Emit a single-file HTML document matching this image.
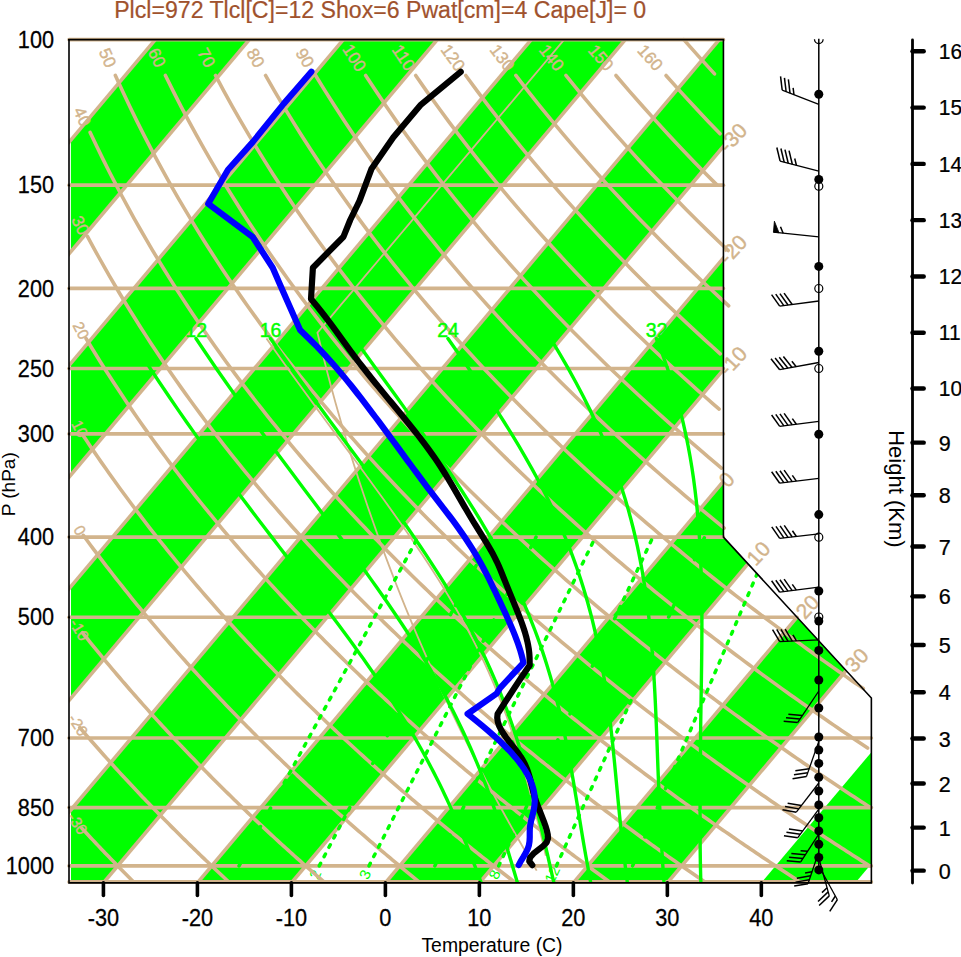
<!DOCTYPE html><html><head><meta charset="utf-8"><style>html,body{margin:0;padding:0;background:#fff;width:961px;height:957px;overflow:hidden}svg{display:block;font-family:"Liberation Sans",sans-serif}</style></head><body><svg width="961" height="957" viewBox="0 0 961 957"><defs><clipPath id="fr"><path d="M69.00,39.64 L723.43,39.64 L723.43,537.11 L871.37,698.02 L871.37,882.90 L69.00,882.90 Z"/></clipPath><clipPath id="frb"><rect x="70.90" y="0" width="961" height="957"/></clipPath></defs><g clip-path="url(#fr)"><path d="M-758.24,901.65 L-664.26,901.65 L65.11,35.14 L-28.88,35.14 Z" fill="#00ff00" clip-path="url(#frb)"/><path d="M-570.27,901.65 L-476.28,901.65 L253.08,35.14 L159.10,35.14 Z" fill="#00ff00" clip-path="url(#frb)"/><path d="M-382.29,901.65 L-288.31,901.65 L441.06,35.14 L347.07,35.14 Z" fill="#00ff00" clip-path="url(#frb)"/><path d="M-194.32,901.65 L-100.33,901.65 L629.03,35.14 L535.05,35.14 Z" fill="#00ff00" clip-path="url(#frb)"/><path d="M-6.35,901.65 L87.64,901.65 L817.01,35.14 L723.02,35.14 Z" fill="#00ff00" clip-path="url(#frb)"/><path d="M181.63,901.65 L275.61,901.65 L1004.98,35.14 L910.99,35.14 Z" fill="#00ff00" clip-path="url(#frb)"/><path d="M369.60,901.65 L463.59,901.65 L1192.95,35.14 L1098.97,35.14 Z" fill="#00ff00" clip-path="url(#frb)"/><path d="M557.58,901.65 L651.56,901.65 L1380.93,35.14 L1286.94,35.14 Z" fill="#00ff00" clip-path="url(#frb)"/><path d="M745.55,901.65 L839.54,901.65 L1568.90,35.14 L1474.92,35.14 Z" fill="#00ff00" clip-path="url(#frb)"/><text x="628.26" y="874.32" font-size="15" fill="#00ff00" text-anchor="middle" dominant-baseline="central" transform="rotate(-65.00 628.26 874.32)">20</text><text x="552.10" y="874.32" font-size="15" fill="#00ff00" text-anchor="middle" dominant-baseline="central" transform="rotate(-65.00 552.10 874.32)">12</text><text x="494.38" y="874.32" font-size="15" fill="#00ff00" text-anchor="middle" dominant-baseline="central" transform="rotate(-65.00 494.38 874.32)">8</text><text x="430.51" y="874.32" font-size="15" fill="#00ff00" text-anchor="middle" dominant-baseline="central" transform="rotate(-65.00 430.51 874.32)">5</text><text x="364.68" y="874.32" font-size="15" fill="#00ff00" text-anchor="middle" dominant-baseline="central" transform="rotate(-65.00 364.68 874.32)">3</text><text x="314.94" y="874.32" font-size="15" fill="#00ff00" text-anchor="middle" dominant-baseline="central" transform="rotate(-65.00 314.94 874.32)">2</text><text x="234.74" y="874.32" font-size="15" fill="#00ff00" text-anchor="middle" dominant-baseline="central" transform="rotate(-65.00 234.74 874.32)">1</text><line x1="-758.24" y1="901.65" x2="-28.88" y2="35.14" stroke="#d2b48c" stroke-width="3.6"/><line x1="-664.26" y1="901.65" x2="65.11" y2="35.14" stroke="#d2b48c" stroke-width="3.6"/><line x1="-570.27" y1="901.65" x2="159.10" y2="35.14" stroke="#d2b48c" stroke-width="3.6"/><line x1="-476.28" y1="901.65" x2="253.08" y2="35.14" stroke="#d2b48c" stroke-width="3.6"/><line x1="-382.29" y1="901.65" x2="347.07" y2="35.14" stroke="#d2b48c" stroke-width="3.6"/><line x1="-288.31" y1="901.65" x2="441.06" y2="35.14" stroke="#d2b48c" stroke-width="3.6"/><line x1="-194.32" y1="901.65" x2="535.05" y2="35.14" stroke="#d2b48c" stroke-width="3.6"/><line x1="-100.33" y1="901.65" x2="629.03" y2="35.14" stroke="#d2b48c" stroke-width="3.6"/><line x1="-6.35" y1="901.65" x2="723.02" y2="35.14" stroke="#d2b48c" stroke-width="3.6"/><line x1="87.64" y1="901.65" x2="817.01" y2="35.14" stroke="#d2b48c" stroke-width="3.6"/><line x1="181.63" y1="901.65" x2="910.99" y2="35.14" stroke="#d2b48c" stroke-width="3.6"/><line x1="275.61" y1="901.65" x2="1004.98" y2="35.14" stroke="#d2b48c" stroke-width="3.6"/><line x1="369.60" y1="901.65" x2="1098.97" y2="35.14" stroke="#d2b48c" stroke-width="3.6"/><line x1="463.59" y1="901.65" x2="1192.95" y2="35.14" stroke="#d2b48c" stroke-width="3.6"/><line x1="557.58" y1="901.65" x2="1286.94" y2="35.14" stroke="#d2b48c" stroke-width="3.6"/><line x1="651.56" y1="901.65" x2="1380.93" y2="35.14" stroke="#d2b48c" stroke-width="3.6"/></g><line x1="69.00" y1="881.90" x2="871.37" y2="881.90" stroke="#d2b48c" stroke-width="3.6" stroke-linecap="round"/><line x1="69.00" y1="865.92" x2="871.37" y2="865.92" stroke="#d2b48c" stroke-width="3.6" stroke-linecap="round"/><line x1="69.00" y1="807.60" x2="871.37" y2="807.60" stroke="#d2b48c" stroke-width="3.6" stroke-linecap="round"/><line x1="69.00" y1="737.93" x2="871.37" y2="737.93" stroke="#d2b48c" stroke-width="3.6" stroke-linecap="round"/><line x1="69.00" y1="617.18" x2="797.05" y2="617.18" stroke="#d2b48c" stroke-width="3.6" stroke-linecap="round"/><line x1="69.00" y1="537.11" x2="723.43" y2="537.11" stroke="#d2b48c" stroke-width="3.6" stroke-linecap="round"/><line x1="69.00" y1="433.88" x2="723.43" y2="433.88" stroke="#d2b48c" stroke-width="3.6" stroke-linecap="round"/><line x1="69.00" y1="368.45" x2="723.43" y2="368.45" stroke="#d2b48c" stroke-width="3.6" stroke-linecap="round"/><line x1="69.00" y1="288.38" x2="723.43" y2="288.38" stroke="#d2b48c" stroke-width="3.6" stroke-linecap="round"/><line x1="69.00" y1="185.14" x2="723.43" y2="185.14" stroke="#d2b48c" stroke-width="3.6" stroke-linecap="round"/><line x1="69.00" y1="39.64" x2="723.43" y2="39.64" stroke="#d2b48c" stroke-width="3.6" stroke-linecap="round"/><defs><clipPath id="lb"><rect x="69.00" y="30" width="900" height="852.90"/></clipPath></defs><g clip-path="url(#lb)"><path d="M81.71,828.11 L83.55,830.10 L85.39,832.08 L87.22,834.04 L89.05,836.00 L90.88,837.94 L92.70,839.88 L94.51,841.80 L96.32,843.71 L98.13,845.62 L99.93,847.51 L101.73,849.40 L103.52,851.27 L105.31,853.13 L107.10,854.99 L108.88,856.83 L110.65,858.67 L112.43,860.50 L114.19,862.31 L115.96,864.12 L117.72,865.92 L119.47,867.71 L121.23,869.49 L122.97,871.26 L124.72,873.02 L126.46,874.78 L128.19,876.53 L129.92,878.26 L131.65,879.99 L133.37,881.71 L135.09,883.43 L136.81,885.13 L138.52,886.83" fill="none" stroke="#d2b48c" stroke-width="3.6" stroke-linecap="round"/><path d="M79.72,727.52 L81.97,730.15 L84.22,732.76 L86.47,735.35 L88.70,737.93 L90.93,740.48 L93.15,743.02 L95.36,745.54 L97.57,748.04 L99.77,750.52 L101.97,752.99 L104.15,755.44 L106.33,757.87 L108.51,760.28 L110.68,762.68 L112.84,765.07 L114.99,767.44 L117.14,769.79 L119.28,772.13 L121.42,774.45 L123.55,776.76 L125.67,779.05 L127.79,781.33 L129.90,783.59 L132.01,785.84 L134.11,788.08 L136.20,790.30 L138.29,792.51 L140.37,794.71 L142.44,796.89 L144.51,799.05 L146.58,801.21 L148.64,803.35 L150.69,805.48 L152.74,807.60 L154.78,809.70 L156.81,811.80 L158.84,813.88 L160.87,815.94 L162.89,818.00 L164.90,820.05 L166.91,822.08 L168.91,824.10 L170.91,826.11 L172.90,828.11 L174.89,830.10 L176.87,832.08 L178.85,834.04 L180.82,836.00 L182.79,837.94 L184.75,839.88 L186.71,841.80 L188.66,843.71 L190.61,845.62 L192.55,847.51 L194.49,849.40 L196.42,851.27 L198.35,853.13 L200.27,854.99 L202.19,856.83 L204.10,858.67 L206.01,860.50 L207.91,862.31 L209.81,864.12 L211.71,865.92 L213.60,867.71 L215.48,869.49 L217.36,871.26 L219.24,873.02 L221.11,874.78 L222.98,876.53 L224.84,878.26 L226.70,879.99 L228.55,881.71 L230.40,883.43 L232.25,885.13 L234.09,886.83" fill="none" stroke="#d2b48c" stroke-width="3.6" stroke-linecap="round"/><path d="M82.43,632.64 L85.15,636.06 L87.87,639.45 L90.58,642.80 L93.27,646.13 L95.96,649.42 L98.63,652.69 L101.30,655.93 L103.95,659.13 L106.60,662.31 L109.23,665.46 L111.86,668.58 L114.47,671.68 L117.08,674.75 L119.67,677.79 L122.26,680.81 L124.84,683.80 L127.41,686.77 L129.96,689.72 L132.51,692.64 L135.05,695.53 L137.59,698.41 L140.11,701.26 L142.62,704.08 L145.13,706.89 L147.62,709.67 L150.11,712.44 L152.59,715.18 L155.06,717.90 L157.52,720.60 L159.98,723.28 L162.43,725.94 L164.86,728.58 L167.29,731.20 L169.71,733.80 L172.13,736.39 L174.53,738.95 L176.93,741.50 L179.32,744.03 L181.70,746.54 L184.08,749.03 L186.45,751.51 L188.81,753.97 L191.16,756.41 L193.50,758.84 L195.84,761.25 L198.17,763.64 L200.49,766.02 L202.81,768.38 L205.12,770.73 L207.42,773.06 L209.72,775.38 L212.00,777.68 L214.28,779.97 L216.56,782.24 L218.83,784.50 L221.09,786.74 L223.34,788.97 L225.59,791.19 L227.83,793.39 L230.06,795.58 L232.29,797.76 L234.51,799.92 L236.73,802.07 L238.93,804.21 L241.14,806.33 L243.33,808.44 L245.52,810.54 L247.70,812.63 L249.88,814.71 L252.05,816.77 L254.22,818.82 L256.38,820.86 L258.53,822.89 L260.68,824.91 L262.82,826.91 L264.95,828.91 L267.08,830.89 L269.21,832.86 L271.33,834.83 L273.44,836.78 L275.55,838.72 L277.65,840.65 L279.74,842.57 L281.83,844.48 L283.92,846.38 L286.00,848.27 L288.07,850.15 L290.14,852.02 L292.21,853.88 L294.26,855.73 L296.32,857.57 L298.36,859.40 L300.41,861.22 L302.44,863.04 L304.48,864.84 L306.50,866.64 L308.52,868.42 L310.54,870.20 L312.55,871.97 L314.56,873.73 L316.56,875.48 L318.56,877.22 L320.55,878.96 L322.54,880.68 L324.52,882.40 L326.50,884.11 L328.47,885.81 L329.65,886.83" fill="none" stroke="#d2b48c" stroke-width="3.6" stroke-linecap="round"/><path d="M83.29,535.31 L86.57,539.79 L89.84,544.22 L93.10,548.59 L96.34,552.91 L99.56,557.17 L102.77,561.39 L105.96,565.56 L109.14,569.68 L112.30,573.75 L115.45,577.78 L118.59,581.76 L121.71,585.70 L124.81,589.60 L127.91,593.45 L130.99,597.26 L134.05,601.04 L137.10,604.77 L140.14,608.47 L143.17,612.13 L146.18,615.75 L149.18,619.33 L152.17,622.88 L155.14,626.40 L158.11,629.88 L161.06,633.32 L164.00,636.74 L166.92,640.12 L169.83,643.47 L172.74,646.79 L175.63,650.08 L178.51,653.34 L181.37,656.57 L184.23,659.77 L187.07,662.94 L189.91,666.09 L192.73,669.21 L195.54,672.30 L198.34,675.36 L201.13,678.40 L203.91,681.41 L206.68,684.40 L209.44,687.36 L212.19,690.30 L214.92,693.22 L217.65,696.11 L220.37,698.98 L223.08,701.82 L225.78,704.65 L228.46,707.45 L231.14,710.23 L233.81,712.99 L236.47,715.72 L239.12,718.44 L241.76,721.14 L244.39,723.81 L247.01,726.47 L249.63,729.10 L252.23,731.72 L254.83,734.32 L257.41,736.90 L259.99,739.46 L262.56,742.00 L265.12,744.53 L267.67,747.04 L270.21,749.53 L272.75,752.00 L275.28,754.46 L277.79,756.90 L280.30,759.32 L282.81,761.73 L285.30,764.12 L287.79,766.49 L290.26,768.85 L292.73,771.20 L295.20,773.52 L297.65,775.84 L300.10,778.14 L302.54,780.42 L304.97,782.69 L307.39,784.95 L309.81,787.19 L312.22,789.41 L314.62,791.63 L317.01,793.83 L319.40,796.02 L321.78,798.19 L324.16,800.35 L326.52,802.50 L328.88,804.63 L331.23,806.75 L333.58,808.86 L335.92,810.96 L338.25,813.05 L340.57,815.12 L342.89,817.18 L345.20,819.23 L347.51,821.27 L349.81,823.29 L352.10,825.31 L354.39,827.31 L356.66,829.30 L358.94,831.29 L361.20,833.26 L363.46,835.22 L365.72,837.17 L367.97,839.10 L370.21,841.03 L372.44,842.95 L374.67,844.86 L376.90,846.76 L379.12,848.64 L381.33,850.52 L383.53,852.39 L385.73,854.25 L387.93,856.10 L390.12,857.94 L392.30,859.77 L394.48,861.59 L396.65,863.40 L398.81,865.20 L400.97,866.99 L403.13,868.78 L405.28,870.55 L407.42,872.32 L409.56,874.08 L411.69,875.83 L413.82,877.57 L415.94,879.30 L418.06,881.03 L420.17,882.74 L422.28,884.45 L424.38,886.15 L425.22,886.83" fill="none" stroke="#d2b48c" stroke-width="3.6" stroke-linecap="round"/><path d="M82.08,433.88 L86.03,439.81 L89.95,445.64 L93.85,451.38 L97.72,457.04 L101.58,462.60 L105.41,468.08 L109.22,473.47 L113.01,478.79 L116.78,484.03 L120.53,489.19 L124.26,494.28 L127.97,499.30 L131.65,504.25 L135.32,509.13 L138.97,513.95 L142.60,518.70 L146.21,523.39 L149.80,528.03 L153.37,532.60 L156.93,537.11 L160.46,541.57 L163.98,545.97 L167.48,550.32 L170.96,554.62 L174.43,558.87 L177.88,563.06 L181.31,567.21 L184.72,571.31 L188.12,575.37 L191.50,579.38 L194.87,583.34 L198.22,587.26 L201.55,591.14 L204.87,594.98 L208.18,598.78 L211.46,602.54 L214.74,606.25 L218.00,609.94 L221.24,613.58 L224.47,617.18 L227.68,620.76 L230.88,624.29 L234.07,627.79 L237.24,631.26 L240.40,634.69 L243.55,638.09 L246.68,641.46 L249.80,644.80 L252.90,648.11 L256.00,651.39 L259.08,654.63 L262.14,657.85 L265.20,661.04 L268.24,664.20 L271.27,667.34 L274.28,670.44 L277.29,673.53 L280.28,676.58 L283.26,679.61 L286.23,682.61 L289.19,685.59 L292.14,688.54 L295.07,691.47 L297.99,694.38 L300.91,697.26 L303.81,700.12 L306.70,702.96 L309.58,705.77 L312.44,708.56 L315.30,711.33 L318.15,714.08 L320.99,716.81 L323.81,719.52 L326.63,722.21 L329.44,724.88 L332.23,727.52 L335.02,730.15 L337.79,732.76 L340.56,735.35 L343.32,737.93 L346.06,740.48 L348.80,743.02 L351.53,745.54 L354.25,748.04 L356.96,750.52 L359.66,752.99 L362.35,755.44 L365.03,757.87 L367.70,760.28 L370.37,762.68 L373.02,765.07 L375.67,767.44 L378.31,769.79 L380.94,772.13 L383.56,774.45 L386.17,776.76 L388.77,779.05 L391.37,781.33 L393.96,783.59 L396.54,785.84 L399.11,788.08 L401.67,790.30 L404.22,792.51 L406.77,794.71 L409.31,796.89 L411.84,799.05 L414.37,801.21 L416.88,803.35 L419.39,805.48 L421.89,807.60 L424.38,809.70 L426.87,811.80 L429.35,813.88 L431.82,815.94 L434.28,818.00 L436.74,820.05 L439.19,822.08 L441.63,824.10 L444.07,826.11 L446.50,828.11 L448.92,830.10 L451.33,832.08 L453.74,834.04 L456.14,836.00 L458.53,837.94 L460.92,839.88 L463.30,841.80 L465.68,843.71 L468.04,845.62 L470.40,847.51 L472.76,849.40 L475.11,851.27 L477.45,853.13 L479.78,854.99 L482.11,856.83 L484.44,858.67 L486.75,860.50 L489.06,862.31 L491.37,864.12 L493.67,865.92 L495.96,867.71 L498.24,869.49 L500.53,871.26 L502.80,873.02 L505.07,874.78 L507.33,876.53 L509.59,878.26 L511.84,879.99 L514.08,881.71 L516.32,883.43 L518.56,885.13 L520.79,886.83" fill="none" stroke="#d2b48c" stroke-width="3.6" stroke-linecap="round"/><path d="M86.06,338.53 L90.73,346.25 L95.37,353.80 L99.98,361.20 L104.55,368.45 L109.10,375.56 L113.61,382.53 L118.10,389.36 L122.56,396.07 L126.98,402.65 L131.38,409.12 L135.75,415.47 L140.09,421.71 L144.40,427.85 L148.69,433.88 L152.95,439.81 L157.18,445.64 L161.39,451.38 L165.57,457.04 L169.73,462.60 L173.86,468.08 L177.97,473.47 L182.05,478.79 L186.11,484.03 L190.14,489.19 L194.15,494.28 L198.14,499.30 L202.10,504.25 L206.05,509.13 L209.97,513.95 L213.86,518.70 L217.74,523.39 L221.60,528.03 L225.43,532.60 L229.25,537.11 L233.04,541.57 L236.81,545.97 L240.57,550.32 L244.30,554.62 L248.01,558.87 L251.71,563.06 L255.38,567.21 L259.04,571.31 L262.68,575.37 L266.30,579.38 L269.90,583.34 L273.49,587.26 L277.06,591.14 L280.61,594.98 L284.14,598.78 L287.66,602.54 L291.16,606.25 L294.64,609.94 L298.10,613.58 L301.55,617.18 L304.99,620.76 L308.41,624.29 L311.81,627.79 L315.20,631.26 L318.57,634.69 L321.93,638.09 L325.27,641.46 L328.60,644.80 L331.91,648.11 L335.21,651.39 L338.50,654.63 L341.77,657.85 L345.02,661.04 L348.27,664.20 L351.50,667.34 L354.71,670.44 L357.91,673.53 L361.10,676.58 L364.28,679.61 L367.44,682.61 L370.59,685.59 L373.73,688.54 L376.86,691.47 L379.97,694.38 L383.07,697.26 L386.16,700.12 L389.24,702.96 L392.30,705.77 L395.35,708.56 L398.40,711.33 L401.42,714.08 L404.44,716.81 L407.45,719.52 L410.45,722.21 L413.43,724.88 L416.40,727.52 L419.37,730.15 L422.32,732.76 L425.26,735.35 L428.19,737.93 L431.11,740.48 L434.02,743.02 L436.92,745.54 L439.81,748.04 L442.69,750.52 L445.55,752.99 L448.41,755.44 L451.26,757.87 L454.10,760.28 L456.93,762.68 L459.75,765.07 L462.56,767.44 L465.36,769.79 L468.15,772.13 L470.94,774.45 L473.71,776.76 L476.47,779.05 L479.23,781.33 L481.97,783.59 L484.71,785.84 L487.44,788.08 L490.16,790.30 L492.87,792.51 L495.57,794.71 L498.27,796.89 L500.95,799.05 L503.63,801.21 L506.30,803.35 L508.96,805.48 L511.61,807.60 L514.25,809.70 L516.89,811.80 L519.52,813.88 L522.14,815.94 L524.75,818.00 L527.35,820.05 L529.95,822.08 L532.54,824.10 L535.12,826.11 L537.69,828.11 L540.26,830.10 L542.82,832.08 L545.37,834.04 L547.91,836.00 L550.45,837.94 L552.98,839.88 L555.50,841.80 L558.01,843.71 L560.52,845.62 L563.02,847.51 L565.52,849.40 L568.00,851.27 L570.48,853.13 L572.96,854.99 L575.42,856.83 L577.88,858.67 L580.33,860.50 L582.78,862.31 L585.22,864.12 L587.65,865.92 L590.08,867.71 L592.50,869.49 L594.91,871.26 L597.32,873.02 L599.72,874.78 L602.12,876.53 L604.50,878.26 L606.89,879.99 L609.26,881.71 L611.63,883.43 L614.00,885.13 L616.35,886.83" fill="none" stroke="#d2b48c" stroke-width="3.6" stroke-linecap="round"/><path d="M87.43,236.33 L92.94,246.56 L98.41,256.50 L103.83,266.17 L109.22,275.59 L114.56,284.77 L119.86,293.72 L125.12,302.45 L130.34,310.97 L135.52,319.30 L140.66,327.44 L145.77,335.40 L150.83,343.18 L155.86,350.80 L160.85,358.26 L165.81,365.57 L170.72,372.73 L175.61,379.75 L180.46,386.64 L185.27,393.40 L190.05,400.03 L194.80,406.55 L199.51,412.94 L204.19,419.23 L208.84,425.40 L213.46,431.48 L218.05,437.45 L222.61,443.32 L227.13,449.10 L231.63,454.79 L236.10,460.38 L240.54,465.90 L244.95,471.33 L249.34,476.67 L253.70,481.94 L258.03,487.14 L262.33,492.26 L266.61,497.30 L270.86,502.28 L275.09,507.19 L279.29,512.03 L283.47,516.81 L287.62,521.53 L291.75,526.18 L295.86,530.78 L299.94,535.31 L304.00,539.79 L308.04,544.22 L312.05,548.59 L316.04,552.91 L320.01,557.17 L323.97,561.39 L327.89,565.56 L331.80,569.68 L335.69,573.75 L339.56,577.78 L343.40,581.76 L347.23,585.70 L351.04,589.60 L354.83,593.45 L358.60,597.26 L362.35,601.04 L366.08,604.77 L369.80,608.47 L373.50,612.13 L377.17,615.75 L380.84,619.33 L384.48,622.88 L388.11,626.40 L391.71,629.88 L395.31,633.32 L398.88,636.74 L402.44,640.12 L405.99,643.47 L409.52,646.79 L413.03,650.08 L416.52,653.34 L420.00,656.57 L423.47,659.77 L426.92,662.94 L430.36,666.09 L433.78,669.21 L437.18,672.30 L440.57,675.36 L443.95,678.40 L447.31,681.41 L450.66,684.40 L454.00,687.36 L457.32,690.30 L460.63,693.22 L463.92,696.11 L467.20,698.98 L470.47,701.82 L473.73,704.65 L476.97,707.45 L480.20,710.23 L483.42,712.99 L486.62,715.72 L489.81,718.44 L492.99,721.14 L496.16,723.81 L499.32,726.47 L502.46,729.10 L505.59,731.72 L508.71,734.32 L511.82,736.90 L514.92,739.46 L518.00,742.00 L521.08,744.53 L524.14,747.04 L527.20,749.53 L530.24,752.00 L533.27,754.46 L536.29,756.90 L539.30,759.32 L542.30,761.73 L545.29,764.12 L548.27,766.49 L551.23,768.85 L554.19,771.20 L557.14,773.52 L560.08,775.84 L563.01,778.14 L565.92,780.42 L568.83,782.69 L571.73,784.95 L574.62,787.19 L577.50,789.41 L580.37,791.63 L583.23,793.83 L586.08,796.02 L588.93,798.19 L591.76,800.35 L594.58,802.50 L597.40,804.63 L600.21,806.75 L603.01,808.86 L605.79,810.96 L608.58,813.05 L611.35,815.12 L614.11,817.18 L616.87,819.23 L619.61,821.27 L622.35,823.29 L625.08,825.31 L627.80,827.31 L630.52,829.30 L633.22,831.29 L635.92,833.26 L638.61,835.22 L641.29,837.17 L643.97,839.10 L646.63,841.03 L649.29,842.95 L651.94,844.86 L654.59,846.76 L657.22,848.64 L659.85,850.52 L662.47,852.39 L665.08,854.25 L667.69,856.10 L670.29,857.94 L672.88,859.77 L675.47,861.59 L678.04,863.40 L680.61,865.20 L683.18,866.99 L685.73,868.78 L688.28,870.55 L690.83,872.32 L693.36,874.08 L695.89,875.83 L698.41,877.57 L700.93,879.30 L703.44,881.03 L705.94,882.74 L708.44,884.45 L710.93,886.15 L711.92,886.83" fill="none" stroke="#d2b48c" stroke-width="3.6" stroke-linecap="round"/><path d="M90.16,132.41 L96.59,146.00 L102.97,159.10 L109.29,171.74 L115.56,183.94 L121.78,195.75 L127.95,207.18 L134.06,218.26 L140.13,229.00 L146.14,239.43 L152.09,249.57 L158.00,259.43 L163.86,269.02 L169.67,278.37 L175.42,287.48 L181.14,296.36 L186.80,305.03 L192.41,313.49 L197.98,321.76 L203.51,329.84 L208.99,337.75 L214.42,345.48 L219.81,353.05 L225.16,360.47 L230.47,367.73 L235.74,374.85 L240.97,381.83 L246.16,388.68 L251.30,395.40 L256.41,402.00 L261.49,408.48 L266.52,414.84 L271.52,421.09 L276.49,427.24 L281.42,433.28 L286.31,439.22 L291.17,445.06 L296.00,450.81 L300.79,456.47 L305.56,462.05 L310.29,467.53 L314.99,472.94 L319.65,478.26 L324.29,483.51 L328.90,488.68 L333.48,493.78 L338.03,498.80 L342.55,503.76 L347.05,508.65 L351.52,513.47 L355.96,518.23 L360.37,522.93 L364.76,527.56 L369.12,532.14 L373.45,536.66 L377.76,541.12 L382.05,545.53 L386.31,549.89 L390.55,554.19 L394.76,558.44 L398.95,562.65 L403.12,566.80 L407.26,570.90 L411.39,574.96 L415.49,578.98 L419.57,582.95 L423.62,586.87 L427.66,590.76 L431.67,594.60 L435.67,598.40 L439.64,602.16 L443.59,605.88 L447.53,609.57 L451.44,613.22 L455.34,616.83 L459.21,620.40 L463.07,623.94 L466.91,627.44 L470.73,630.91 L474.53,634.35 L478.31,637.76 L482.08,641.13 L485.83,644.47 L489.56,647.78 L493.27,651.06 L496.97,654.31 L500.65,657.53 L504.31,660.72 L507.96,663.89 L511.59,667.03 L515.21,670.14 L518.81,673.22 L522.39,676.28 L525.96,679.31 L529.51,682.31 L533.05,685.29 L536.57,688.25 L540.08,691.18 L543.58,694.09 L547.06,696.97 L550.52,699.83 L553.97,702.67 L557.41,705.49 L560.83,708.28 L564.24,711.06 L567.64,713.81 L571.02,716.54 L574.39,719.25 L577.74,721.94 L581.08,724.61 L584.41,727.26 L587.73,729.89 L591.04,732.50 L594.33,735.10 L597.61,737.67 L600.87,740.23 L604.13,742.76 L607.37,745.28 L610.60,747.79 L613.82,750.27 L617.03,752.74 L620.22,755.19 L623.41,757.63 L626.58,760.04 L629.74,762.45 L632.89,764.83 L636.03,767.20 L639.16,769.56 L642.28,771.90 L645.38,774.22 L648.48,776.53 L651.57,778.82 L654.64,781.10 L657.70,783.37 L660.76,785.62 L663.80,787.86 L666.84,790.08 L669.86,792.29 L672.87,794.49 L675.88,796.67 L678.87,798.84 L681.86,801.00 L684.83,803.14 L687.80,805.27 L690.75,807.39 L693.70,809.49 L696.63,811.59 L699.56,813.67 L702.48,815.74 L705.39,817.80 L708.29,819.84 L711.18,821.88 L714.06,823.90 L716.94,825.91 L719.80,827.91 L722.66,829.90 L725.50,831.88 L728.34,833.85 L731.17,835.80 L734.00,837.75 L736.81,839.68 L739.61,841.61 L742.41,843.52 L745.20,845.43 L747.98,847.32 L750.75,849.21 L753.52,851.08 L756.28,852.95 L759.03,854.80 L761.77,856.65 L764.50,858.49 L767.23,860.31 L769.94,862.13 L772.65,863.94 L775.36,865.74 L778.05,867.53 L780.74,869.31 L783.42,871.08 L786.10,872.85 L788.76,874.60 L791.42,876.35 L794.07,878.09 L796.72,879.82 L799.35,881.54 L801.98,883.26 L804.61,884.96 L807.22,886.66 L807.49,886.83" fill="none" stroke="#d2b48c" stroke-width="3.6" stroke-linecap="round"/><path d="M115.38,75.47 L122.61,91.35 L129.79,106.56 L136.90,121.15 L143.95,135.17 L150.93,148.66 L157.85,161.66 L164.70,174.21 L171.49,186.34 L178.21,198.07 L184.87,209.42 L191.47,220.43 L198.00,231.11 L204.47,241.48 L210.88,251.56 L217.23,261.37 L223.52,270.91 L229.75,280.21 L235.93,289.27 L242.05,298.11 L248.11,306.74 L254.13,315.16 L260.08,323.39 L265.99,331.44 L271.85,339.31 L277.66,347.01 L283.41,354.55 L289.13,361.93 L294.79,369.17 L300.41,376.26 L305.98,383.21 L311.51,390.04 L316.99,396.73 L322.44,403.30 L327.84,409.76 L333.20,416.10 L338.52,422.33 L343.80,428.45 L349.04,434.47 L354.24,440.40 L359.41,446.22 L364.53,451.95 L369.63,457.60 L374.68,463.15 L379.71,468.62 L384.69,474.01 L389.65,479.32 L394.57,484.55 L399.46,489.71 L404.31,494.79 L409.14,499.80 L413.93,504.74 L418.70,509.62 L423.43,514.43 L428.13,519.18 L432.81,523.86 L437.45,528.49 L442.07,533.05 L446.66,537.56 L451.23,542.01 L455.76,546.41 L460.27,550.75 L464.75,555.05 L469.21,559.29 L473.64,563.48 L478.05,567.62 L482.43,571.72 L486.79,575.77 L491.13,579.78 L495.44,583.74 L499.72,587.65 L503.99,591.53 L508.23,595.36 L512.45,599.16 L516.65,602.91 L520.82,606.62 L524.98,610.30 L529.11,613.94 L533.22,617.54 L537.31,621.11 L541.38,624.64 L545.44,628.14 L549.47,631.60 L553.48,635.03 L557.47,638.43 L561.44,641.80 L565.40,645.13 L569.33,648.44 L573.25,651.71 L577.15,654.96 L581.03,658.17 L584.89,661.36 L588.74,664.52 L592.57,667.65 L596.38,670.75 L600.17,673.83 L603.95,676.88 L607.71,679.91 L611.45,682.91 L615.18,685.88 L618.89,688.84 L622.59,691.76 L626.27,694.67 L629.93,697.55 L633.58,700.40 L637.22,703.24 L640.84,706.05 L644.44,708.84 L648.03,711.61 L651.61,714.36 L655.17,717.08 L658.71,719.79 L662.25,722.48 L665.76,725.14 L669.27,727.79 L672.76,730.42 L676.24,733.02 L679.70,735.61 L683.15,738.18 L686.59,740.74 L690.01,743.27 L693.42,745.79 L696.82,748.29 L700.21,750.77 L703.58,753.23 L706.94,755.68 L710.29,758.11 L713.63,760.53 L716.95,762.92 L720.27,765.31 L723.57,767.67 L726.86,770.03 L730.13,772.36 L733.40,774.68 L736.65,776.99 L739.90,779.28 L743.13,781.56 L746.35,783.82 L749.56,786.07 L752.76,788.30 L755.95,790.52 L759.13,792.73 L762.29,794.92 L765.45,797.10 L768.59,799.27 L771.73,801.42 L774.85,803.57 L777.97,805.69 L781.07,807.81 L784.17,809.91 L787.25,812.00 L790.33,814.08 L793.39,816.15 L796.45,818.21 L799.50,820.25 L802.53,822.28 L805.56,824.30 L808.58,826.31 L811.58,828.31 L814.58,830.30 L817.57,832.27 L820.55,834.24 L823.53,836.19 L826.49,838.14 L829.44,840.07 L832.39,841.99 L835.32,843.91 L838.25,845.81 L841.17,847.70 L844.08,849.58 L846.98,851.46 L849.87,853.32 L852.76,855.17 L855.64,857.02 L858.50,858.85 L861.37,860.68 L864.22,862.49 L867.06,864.30 L869.61,865.92" fill="none" stroke="#d2b48c" stroke-width="3.6" stroke-linecap="round"/><path d="M165.43,75.47 L173.31,91.35 L181.10,106.56 L188.81,121.15 L196.45,135.17 L204.00,148.66 L211.47,161.66 L218.86,174.21 L226.17,186.34 L233.41,198.07 L240.57,209.42 L247.66,220.43 L254.67,231.11 L261.61,241.48 L268.48,251.56 L275.28,261.37 L282.01,270.91 L288.68,280.21 L295.28,289.27 L301.82,298.11 L308.30,306.74 L314.72,315.16 L321.08,323.39 L327.38,331.44 L333.62,339.31 L339.81,347.01 L345.94,354.55 L352.02,361.93 L358.05,369.17 L364.03,376.26 L369.95,383.21 L375.83,390.04 L381.66,396.73 L387.44,403.30 L393.18,409.76 L398.87,416.10 L404.51,422.33 L410.12,428.45 L415.68,434.47 L421.19,440.40 L426.67,446.22 L432.11,451.95 L437.51,457.60 L442.86,463.15 L448.18,468.62 L453.47,474.01 L458.71,479.32 L463.92,484.55 L469.10,489.71 L474.24,494.79 L479.34,499.80 L484.41,504.74 L489.45,509.62 L494.45,514.43 L499.43,519.18 L504.37,523.86 L509.28,528.49 L514.16,533.05 L519.01,537.56 L523.83,542.01 L528.62,546.41 L533.38,550.75 L538.11,555.05 L542.82,559.29 L547.50,563.48 L552.15,567.62 L556.78,571.72 L561.37,575.77 L565.95,579.78 L570.49,583.74 L575.02,587.65 L579.51,591.53 L583.99,595.36 L588.44,599.16 L592.86,602.91 L597.26,606.62 L601.64,610.30 L606.00,613.94 L610.33,617.54 L614.64,621.11 L618.93,624.64 L623.20,628.14 L627.44,631.60 L631.67,635.03 L635.87,638.43 L640.06,641.80 L644.22,645.13 L648.36,648.44 L652.49,651.71 L656.59,654.96 L660.67,658.17 L664.74,661.36 L668.79,664.52 L672.82,667.65 L676.82,670.75 L680.82,673.83 L684.79,676.88 L688.75,679.91 L692.68,682.91 L696.60,685.88 L700.51,688.84 L704.39,691.76 L708.26,694.67 L712.12,697.55 L715.95,700.40 L719.78,703.24 L723.58,706.05 L727.37,708.84 L731.14,711.61 L734.90,714.36 L738.64,717.08 L742.37,719.79 L746.08,722.48 L749.78,725.14 L753.46,727.79 L757.12,730.42 L760.78,733.02 L764.42,735.61 L768.04,738.18 L771.65,740.74 L775.25,743.27 L778.83,745.79 L782.40,748.29 L785.95,750.77 L789.50,753.23 L793.03,755.68 L796.54,758.11 L800.04,760.53 L803.53,762.92 L807.01,765.31 L810.48,767.67 L813.93,770.03 L817.37,772.36 L820.80,774.68 L824.21,776.99 L827.61,779.28 L831.01,781.56 L834.38,783.82 L837.75,786.07 L841.11,788.30 L844.45,790.52 L847.79,792.73 L851.11,794.92 L854.42,797.10 L857.72,799.27 L861.01,801.42 L864.28,803.57 L867.55,805.69 L870.48,807.60" fill="none" stroke="#d2b48c" stroke-width="3.6" stroke-linecap="round"/><path d="M215.49,75.47 L224.00,91.35 L232.41,106.56 L240.73,121.15 L248.94,135.17 L257.06,148.66 L265.09,161.66 L273.02,174.21 L280.86,186.34 L288.61,198.07 L296.27,209.42 L303.84,220.43 L311.34,231.11 L318.75,241.48 L326.08,251.56 L333.33,261.37 L340.51,270.91 L347.61,280.21 L354.64,289.27 L361.60,298.11 L368.49,306.74 L375.31,315.16 L382.07,323.39 L388.76,331.44 L395.39,339.31 L401.96,347.01 L408.47,354.55 L414.92,361.93 L421.31,369.17 L427.64,376.26 L433.92,383.21 L440.15,390.04 L446.32,396.73 L452.44,403.30 L458.52,409.76 L464.54,416.10 L470.51,422.33 L476.44,428.45 L482.32,434.47 L488.15,440.40 L493.94,446.22 L499.68,451.95 L505.38,457.60 L511.04,463.15 L516.66,468.62 L522.24,474.01 L527.78,479.32 L533.27,484.55 L538.73,489.71 L544.16,494.79 L549.54,499.80 L554.89,504.74 L560.20,509.62 L565.48,514.43 L570.72,519.18 L575.93,523.86 L581.10,528.49 L586.24,533.05 L591.35,537.56 L596.43,542.01 L601.48,546.41 L606.49,550.75 L611.48,555.05 L616.43,559.29 L621.35,563.48 L626.25,567.62 L631.12,571.72 L635.96,575.77 L640.77,579.78 L645.55,583.74 L650.31,587.65 L655.04,591.53 L659.74,595.36 L664.42,599.16 L669.07,602.91 L673.70,606.62 L678.30,610.30 L682.88,613.94 L687.44,617.54 L691.97,621.11 L696.47,624.64 L700.96,628.14 L705.42,631.60 L709.86,635.03 L714.27,638.43 L718.67,641.80 L723.04,645.13 L727.39,648.44 L731.72,651.71 L736.03,654.96 L740.32,658.17 L744.59,661.36 L748.84,664.52 L753.06,667.65 L757.27,670.75 L761.46,673.83 L765.63,676.88 L769.78,679.91 L773.91,682.91 L778.03,685.88 L782.12,688.84 L786.20,691.76 L790.26,694.67 L794.30,697.55 L798.33,700.40 L802.33,703.24 L806.32,706.05 L810.30,708.84 L814.25,711.61 L818.19,714.36 L822.11,717.08 L826.02,719.79 L829.91,722.48 L833.79,725.14 L837.65,727.79 L841.49,730.42 L845.32,733.02 L849.13,735.61 L852.93,738.18 L856.71,740.74 L860.48,743.27 L864.24,745.79 L867.60,748.04" fill="none" stroke="#d2b48c" stroke-width="3.6" stroke-linecap="round"/><path d="M265.55,75.47 L274.70,91.35 L283.73,106.56 L292.64,121.15 L301.44,135.17 L310.13,148.66 L318.70,161.66 L327.17,174.21 L335.54,186.34 L343.80,198.07 L351.96,209.42 L360.03,220.43 L368.00,231.11 L375.89,241.48 L383.68,251.56 L391.38,261.37 L399.00,270.91 L406.54,280.21 L414.00,289.27 L421.38,298.11 L428.68,306.74 L435.91,315.16 L443.06,323.39 L450.15,331.44 L457.17,339.31 L464.11,347.01 L471.00,354.55 L477.81,361.93 L484.57,369.17 L491.26,376.26 L497.90,383.21 L504.47,390.04 L510.99,396.73 L517.45,403.30 L523.86,409.76 L530.21,416.10 L536.51,422.33 L542.76,428.45 L548.96,434.47 L555.10,440.40 L561.20,446.22 L567.26,451.95 L573.26,457.60 L579.22,463.15 L585.14,468.62 L591.01,474.01 L596.84,479.32 L602.63,484.55 L608.37,489.71 L614.08,494.79 L619.74,499.80 L625.37,504.74 L630.95,509.62 L636.50,514.43 L642.01,519.18 L647.49,523.86 L652.93,528.49 L658.33,533.05 L663.70,537.56 L669.03,542.01 L674.33,546.41 L679.60,550.75 L684.84,555.05 L690.04,559.29 L695.21,563.48 L700.35,567.62 L705.46,571.72 L710.54,575.77 L715.59,579.78 L720.61,583.74 L725.60,587.65 L730.56,591.53 L735.50,595.36 L740.41,599.16 L745.29,602.91 L750.14,606.62 L754.97,610.30 L759.77,613.94 L764.54,617.54 L769.29,621.11 L774.02,624.64 L778.72,628.14 L783.40,631.60 L788.05,635.03 L792.68,638.43 L797.28,641.80 L801.86,645.13 L806.42,648.44 L810.96,651.71 L815.47,654.96 L819.97,658.17 L824.44,661.36 L828.89,664.52 L833.31,667.65 L837.72,670.75 L842.11,673.83 L846.47,676.88 L850.82,679.91 L855.15,682.91 L859.45,685.88 L863.31,688.54" fill="none" stroke="#d2b48c" stroke-width="3.6" stroke-linecap="round"/><path d="M315.61,75.47 L325.39,91.35 L335.04,106.56 L344.55,121.15 L353.94,135.17 L363.19,148.66 L372.32,161.66 L381.33,174.21 L390.22,186.34 L399.00,198.07 L407.66,209.42 L416.22,220.43 L424.67,231.11 L433.03,241.48 L441.28,251.56 L449.44,261.37 L457.50,270.91 L465.47,280.21 L473.36,289.27 L481.15,298.11 L488.87,306.74 L496.50,315.16 L504.06,323.39 L511.54,331.44 L518.94,339.31 L526.27,347.01 L533.52,354.55 L540.71,361.93 L547.83,369.17 L554.88,376.26 L561.87,383.21 L568.79,390.04 L575.65,396.73 L582.45,403.30 L589.20,409.76 L595.88,416.10 L602.51,422.33 L609.08,428.45 L615.59,434.47 L622.06,440.40 L628.47,446.22 L634.83,451.95 L641.14,457.60 L647.40,463.15 L653.62,468.62 L659.78,474.01 L665.91,479.32 L671.98,484.55 L678.01,489.71 L684.00,494.79 L689.94,499.80 L695.84,504.74 L701.71,509.62 L707.53,514.43 L713.31,519.18 L719.05,523.86 L724.18,528.03" fill="none" stroke="#d2b48c" stroke-width="3.6" stroke-linecap="round"/><path d="M365.66,75.47 L376.09,91.35 L386.35,106.56 L396.47,121.15 L406.43,135.17 L416.26,148.66 L425.94,161.66 L435.48,174.21 L444.90,186.34 L454.19,198.07 L463.36,209.42 L472.41,220.43 L481.34,231.11 L490.16,241.48 L498.88,251.56 L507.49,261.37 L515.99,270.91 L524.40,280.21 L532.71,289.27 L540.93,298.11 L549.06,306.74 L557.10,315.16 L565.05,323.39 L572.92,331.44 L580.71,339.31 L588.42,347.01 L596.05,354.55 L603.61,361.93 L611.09,369.17 L618.50,376.26 L625.84,383.21 L633.11,390.04 L640.32,396.73 L647.46,403.30 L654.54,409.76 L661.55,416.10 L668.50,422.33 L675.40,428.45 L682.23,434.47 L689.01,440.40 L695.74,446.22 L702.41,451.95 L709.02,457.60 L715.58,463.15 L721.45,468.08" fill="none" stroke="#d2b48c" stroke-width="3.6" stroke-linecap="round"/><path d="M415.72,75.47 L426.78,91.35 L437.67,106.56 L448.38,121.15 L458.93,135.17 L469.32,148.66 L479.55,161.66 L489.64,174.21 L499.58,186.34 L509.39,198.07 L519.06,209.42 L528.60,220.43 L538.01,231.11 L547.30,241.48 L556.48,251.56 L565.54,261.37 L574.49,270.91 L583.33,280.21 L592.07,289.27 L600.71,298.11 L609.25,306.74 L617.69,315.16 L626.04,323.39 L634.31,331.44 L642.48,339.31 L650.57,347.01 L658.58,354.55 L666.50,361.93 L674.35,369.17 L682.12,376.26 L689.81,383.21 L697.43,390.04 L704.98,396.73 L712.46,403.30 L719.14,409.12" fill="none" stroke="#d2b48c" stroke-width="3.6" stroke-linecap="round"/><path d="M465.78,75.47 L477.48,91.35 L488.98,106.56 L500.30,121.15 L511.43,135.17 L522.38,148.66 L533.17,161.66 L543.80,174.21 L554.27,186.34 L564.58,198.07 L574.75,209.42 L584.78,220.43 L594.68,231.11 L604.44,241.48 L614.08,251.56 L623.59,261.37 L632.98,270.91 L642.26,280.21 L651.43,289.27 L660.49,298.11 L669.44,306.74 L678.29,315.16 L687.04,323.39 L695.69,331.44 L704.25,339.31 L712.72,347.01 L720.27,353.80" fill="none" stroke="#d2b48c" stroke-width="3.6" stroke-linecap="round"/><path d="M515.84,75.47 L528.17,91.35 L540.29,106.56 L552.21,121.15 L563.92,135.17 L575.45,148.66 L586.79,161.66 L597.95,174.21 L608.95,186.34 L619.78,198.07 L630.45,209.42 L640.97,220.43 L651.35,231.11 L661.58,241.48 L671.68,251.56 L681.64,261.37 L691.48,270.91 L701.19,280.21 L710.78,289.27 L720.26,298.11 L728.69,305.88" fill="none" stroke="#d2b48c" stroke-width="3.6" stroke-linecap="round"/><path d="M565.89,75.47 L578.87,91.35 L591.61,106.56 L604.12,121.15 L616.42,135.17 L628.51,148.66 L640.41,161.66 L652.11,174.21 L663.63,186.34 L674.97,198.07 L686.15,209.42 L697.16,220.43 L708.02,231.11 L718.72,241.48 L728.23,250.57" fill="none" stroke="#d2b48c" stroke-width="3.6" stroke-linecap="round"/><path d="M615.95,75.47 L629.56,91.35 L642.92,106.56 L656.04,121.15 L668.92,135.17 L681.58,148.66 L694.02,161.66 L706.26,174.21 L717.11,185.14" fill="none" stroke="#d2b48c" stroke-width="3.6" stroke-linecap="round"/><path d="M666.01,75.47 L680.26,91.35 L694.23,106.56 L707.95,121.15 L720.08,133.79" fill="none" stroke="#d2b48c" stroke-width="3.6" stroke-linecap="round"/><path d="M683.77,39.64 L699.33,57.15 L714.56,73.84" fill="none" stroke="#d2b48c" stroke-width="3.6" stroke-linecap="round"/></g><g clip-path="url(#fr)"><path d="M536.68,870.64 L530.39,859.98 L524.15,849.25 L517.95,838.46 L511.81,827.61 L505.73,816.70 L499.69,805.72 L493.71,794.68 L487.79,783.57 L481.92,772.40 L476.11,761.16 L470.35,749.86 L464.65,738.48 L459.01,727.04 L453.43,715.53 L447.91,703.94 L442.44,692.29 L437.04,680.56 L431.70,668.76 L426.43,656.88 L421.21,644.93 L416.06,632.91 L410.98,620.80 L405.96,608.62 L401.01,596.36 L396.12,584.02 L391.31,571.60 L386.56,559.09 L381.88,546.50 L377.28,533.83 L372.74,521.07 L368.28,508.22 L363.90,495.29 L359.59,482.27 L355.35,469.15 L351.19,455.95 L347.12,442.65 L343.12,429.25 L339.20,415.77 L335.36,402.18 L331.61,388.49 L327.94,374.71 L324.35,360.82 L320.85,346.83 L317.44,332.74 L329.35,318.60 L341.26,304.45 L353.17,290.30 L365.07,276.16 L376.98,262.01 L388.89,247.86 L400.80,233.72 L412.70,219.57 L424.61,205.42 L436.52,191.28 L448.43,177.13 L460.33,162.98 L472.24,148.84 L484.15,134.69 L496.06,120.54 L507.97,106.40 L519.87,92.25 L531.78,78.10 L543.69,63.96 L555.60,49.81 L567.50,35.66 L579.41,21.52 L591.32,7.37 L603.23,-6.78 L615.13,-20.92 L627.04,-35.07 L638.95,-49.22 L650.86,-63.36 L662.76,-77.51 L674.67,-91.66 L686.58,-105.80 L698.49,-119.95 L710.40,-134.10 L722.30,-148.24 L734.21,-162.39 L746.12,-176.54" fill="none" stroke="#d2b48c" stroke-width="1.8"/><path d="M266.47,338.53 L277.23,353.80 L287.69,368.45 L297.84,382.53 L307.69,396.07 L317.25,409.12 L326.52,421.71 L335.50,433.88 L344.20,445.64 L352.62,457.04 L360.75,468.08 L368.62,478.79 L376.21,489.19 L383.54,499.30 L390.61,509.13 L397.42,518.70 L403.98,528.03 L410.28,537.11 L416.35,545.97 L422.17,554.62 L427.76,563.06 L433.12,571.31 L438.26,579.38 L443.18,587.26 L447.89,594.98 L452.40,602.54 L456.72,609.94 L460.84,617.18 L464.79,624.29 L468.55,631.26 L472.15,638.09 L475.59,644.80 L478.88,651.39 L482.01,657.85 L485.01,664.20 L487.88,670.44 L490.61,676.58 L493.23,682.61 L495.73,688.54 L498.13,694.38 L500.42,700.12 L502.62,705.77 L504.72,711.33 L506.74,716.81 L508.68,722.21 L510.54,727.52 L512.33,732.76 L514.05,737.93 L515.70,743.02 L517.30,748.04 L518.84,752.99 L520.33,757.87 L521.77,762.68 L523.16,767.44 L524.51,772.13 L525.82,776.76 L527.10,781.33 L528.33,785.84 L529.54,790.30 L530.72,794.71 L531.87,799.05 L532.99,803.35 L534.09,807.60 L535.17,811.80 L536.23,815.94 L537.27,820.05 L538.30,824.10 L539.31,828.11 L540.28,832.08 L541.22,836.00 L542.14,839.88 L543.05,843.71 L543.93,847.51 L544.80,851.27 L545.66,854.99 L545.83,855.73" fill="none" stroke="#d2b48c" stroke-width="1.8"/><path d="M656.36,338.53 L662.30,353.80 L667.54,368.45 L672.16,382.53 L676.22,396.07 L679.79,409.12 L682.92,421.71 L685.66,433.88 L688.05,445.64 L690.14,457.04 L691.96,468.08 L693.55,478.79 L694.92,489.19 L696.11,499.30 L697.14,509.13 L698.02,518.70 L698.77,528.03 L699.41,537.11 L699.95,545.97 L700.40,554.62 L700.77,563.06 L701.08,571.31 L701.32,579.38 L701.51,587.26 L701.66,594.98 L701.77,602.54 L701.84,609.94 L701.88,617.18 L701.89,624.29 L701.88,631.26 L701.85,638.09 L701.81,644.80 L701.75,651.39 L701.68,657.85 L701.61,664.20 L701.52,670.44 L701.44,676.58 L701.35,682.61 L701.25,688.54 L701.16,694.38 L701.07,700.12 L700.98,705.77 L700.90,711.33 L700.81,716.81 L700.74,722.21 L700.67,727.52 L700.61,732.76 L700.58,737.93 L700.55,743.02 L700.52,748.04 L700.48,752.99 L700.45,757.87 L700.41,762.68 L700.37,767.44 L700.33,772.13 L700.29,776.76 L700.25,781.33 L700.22,785.84 L700.18,790.30 L700.15,794.71 L700.13,799.05 L700.11,803.35 L700.09,807.60 L700.07,811.80 L700.06,815.94 L700.06,820.05 L700.05,824.10 L700.06,828.11 L700.07,832.08 L700.09,836.00 L700.11,839.88 L700.14,843.71 L700.17,847.51 L700.21,851.27 L700.26,854.99 L700.31,858.67 L700.37,862.31 L700.44,865.92 L700.51,869.49 L700.59,873.02 L700.68,876.53 L700.78,879.99 L700.88,883.43 L700.99,886.83" fill="none" stroke="#00ff00" stroke-width="3.4" stroke-linecap="round"/><path d="M550.63,338.53 L559.76,353.80 L568.18,368.45 L575.94,382.53 L583.07,396.07 L589.61,409.12 L595.60,421.71 L601.08,433.88 L606.09,445.64 L610.66,457.04 L614.83,468.08 L618.64,478.79 L622.10,489.19 L625.26,499.30 L628.14,509.13 L630.76,518.70 L633.15,528.03 L635.32,537.11 L637.31,545.97 L639.11,554.62 L640.75,563.06 L642.25,571.31 L643.62,579.38 L644.86,587.26 L646.00,594.98 L647.03,602.54 L647.98,609.94 L648.84,617.18 L649.62,624.29 L650.34,631.26 L651.00,638.09 L651.60,644.80 L652.15,651.39 L652.65,657.85 L653.11,664.20 L653.54,670.44 L653.93,676.58 L654.29,682.61 L654.63,688.54 L654.94,694.38 L655.22,700.12 L655.49,705.77 L655.75,711.33 L655.98,716.81 L656.21,722.21 L656.42,727.52 L656.63,732.76 L656.83,737.93 L657.02,743.02 L657.21,748.04 L657.39,752.99 L657.57,757.87 L657.75,762.68 L657.93,767.44 L658.12,772.13 L658.30,776.76 L658.48,781.33 L658.70,785.84 L658.92,790.30 L659.13,794.71 L659.33,799.05 L659.54,803.35 L659.73,807.60 L659.93,811.80 L660.13,815.94 L660.32,820.05 L660.52,824.10 L660.72,828.11 L660.92,832.08 L661.12,836.00 L661.32,839.88 L661.53,843.71 L661.74,847.51 L661.95,851.27 L662.17,854.99 L662.39,858.67 L662.61,862.31 L662.84,865.92 L663.08,869.49 L663.32,873.02 L663.57,876.53 L663.82,879.99 L664.08,883.43 L664.35,886.83" fill="none" stroke="#00ff00" stroke-width="3.4" stroke-linecap="round"/><path d="M447.93,338.53 L458.62,353.80 L468.75,368.45 L478.34,382.53 L487.40,396.07 L495.94,409.12 L503.99,421.71 L511.56,433.88 L518.67,445.64 L525.33,457.04 L531.58,468.08 L537.42,478.79 L542.87,489.19 L547.97,499.30 L552.72,509.13 L557.15,518.70 L561.28,528.03 L565.12,537.11 L568.70,545.97 L572.03,554.62 L575.13,563.06 L578.01,571.31 L580.70,579.38 L583.20,587.26 L585.53,594.98 L587.69,602.54 L589.71,609.94 L591.59,617.18 L593.35,624.29 L594.99,631.26 L596.51,638.09 L597.94,644.80 L599.28,651.39 L600.53,657.85 L601.70,664.20 L602.79,670.44 L603.82,676.58 L604.79,682.61 L605.70,688.54 L606.56,694.38 L607.37,700.12 L608.13,705.77 L608.86,711.33 L609.54,716.81 L610.20,722.21 L610.82,727.52 L611.41,732.76 L611.98,737.93 L612.53,743.02 L613.05,748.04 L613.56,752.99 L614.04,757.87 L614.52,762.68 L614.98,767.44 L615.43,772.13 L615.87,776.76 L616.30,781.33 L616.73,785.84 L617.15,790.30 L617.56,794.71 L617.98,799.05 L618.39,803.35 L618.80,807.60 L619.21,811.80 L619.62,815.94 L620.03,820.05 L620.44,824.10 L620.87,828.11 L621.32,832.08 L621.76,836.00 L622.20,839.88 L622.64,843.71 L623.07,847.51 L623.51,851.27 L623.94,854.99 L624.38,858.67 L624.81,862.31 L625.25,865.92 L625.69,869.49 L626.13,873.02 L626.57,876.53 L627.02,879.99 L627.47,883.43 L627.93,886.83" fill="none" stroke="#00ff00" stroke-width="3.4" stroke-linecap="round"/><path d="M354.24,338.53 L365.28,353.80 L375.90,368.45 L386.12,382.53 L395.93,396.07 L405.35,409.12 L414.38,421.71 L423.03,433.88 L431.31,445.64 L439.22,457.04 L446.77,468.08 L453.97,478.79 L460.82,489.19 L467.35,499.30 L473.55,509.13 L479.44,518.70 L485.02,528.03 L490.32,537.11 L495.33,545.97 L500.08,554.62 L504.56,563.06 L508.81,571.31 L512.82,579.38 L516.60,587.26 L520.18,594.98 L523.56,602.54 L526.75,609.94 L529.76,617.18 L532.60,624.29 L535.28,631.26 L537.82,638.09 L540.21,644.80 L542.48,651.39 L544.62,657.85 L546.64,664.20 L548.56,670.44 L550.38,676.58 L552.10,682.61 L553.73,688.54 L555.28,694.38 L556.76,700.12 L558.16,705.77 L559.50,711.33 L560.77,716.81 L561.99,722.21 L563.15,727.52 L564.26,732.76 L565.33,737.93 L566.35,743.02 L567.33,748.04 L568.28,752.99 L569.20,757.87 L570.08,762.68 L570.93,767.44 L571.76,772.13 L572.57,776.76 L573.35,781.33 L574.12,785.84 L574.87,790.30 L575.60,794.71 L576.32,799.05 L577.02,803.35 L577.72,807.60 L578.40,811.80 L579.08,815.94 L579.75,820.05 L580.41,824.10 L581.07,828.11 L581.73,832.08 L582.39,836.00 L583.04,839.88 L583.69,843.71 L584.35,847.51 L585.00,851.27 L585.66,854.99 L586.32,858.67 L586.99,862.31 L587.65,865.92 L588.31,869.49 L588.96,873.02 L589.60,876.53 L590.23,879.99 L590.85,883.43 L591.47,886.83" fill="none" stroke="#00ff00" stroke-width="3.4" stroke-linecap="round"/><path d="M270.42,338.53 L281.20,353.80 L291.67,368.45 L301.83,382.53 L311.70,396.07 L321.26,409.12 L330.53,421.71 L339.51,433.88 L348.20,445.64 L356.60,457.04 L364.73,468.08 L372.57,478.79 L380.15,489.19 L387.45,499.30 L394.49,509.13 L401.27,518.70 L407.80,528.03 L414.07,537.11 L420.09,545.97 L425.88,554.62 L431.42,563.06 L436.74,571.31 L441.84,579.38 L446.71,587.26 L451.38,594.98 L455.84,602.54 L460.11,609.94 L464.18,617.18 L468.08,624.29 L471.80,631.26 L475.35,638.09 L478.74,644.80 L481.97,651.39 L485.07,657.85 L488.02,664.20 L490.84,670.44 L493.53,676.58 L496.11,682.61 L498.57,688.54 L500.92,694.38 L503.17,700.12 L505.33,705.77 L507.39,711.33 L509.38,716.81 L511.28,722.21 L513.10,727.52 L514.85,732.76 L516.54,737.93 L518.16,743.02 L519.73,748.04 L521.24,752.99 L522.70,757.87 L524.11,762.68 L525.47,767.44 L526.79,772.13 L528.08,776.76 L529.33,781.33 L530.54,785.84 L531.72,790.30 L532.87,794.71 L534.00,799.05 L535.10,803.35 L536.18,807.60 L537.24,811.80 L538.28,815.94 L539.30,820.05 L540.31,824.10 L541.30,828.11 L542.28,832.08 L543.20,836.00 L544.11,839.88 L545.00,843.71 L545.87,847.51 L546.73,851.27 L547.58,854.99 L548.41,858.67 L549.24,862.31 L550.06,865.92 L550.87,869.49 L551.67,873.02 L552.47,876.53 L553.26,879.99 L554.05,883.43 L554.84,886.83" fill="none" stroke="#00ff00" stroke-width="3.4" stroke-linecap="round"/><path d="M196.00,338.53 L206.26,353.80 L216.28,368.45 L226.08,382.53 L235.64,396.07 L244.98,409.12 L254.10,421.71 L262.99,433.88 L271.66,445.64 L280.10,457.04 L288.34,468.08 L296.35,478.79 L304.16,489.19 L311.75,499.30 L319.14,509.13 L326.32,518.70 L333.30,528.03 L340.07,537.11 L346.65,545.97 L353.03,554.62 L359.22,563.06 L365.21,571.31 L371.02,579.38 L376.64,587.26 L382.08,594.98 L387.34,602.54 L392.42,609.94 L397.33,617.18 L402.08,624.29 L406.66,631.26 L411.07,638.09 L415.33,644.80 L419.44,651.39 L423.40,657.85 L427.22,664.20 L430.90,670.44 L434.45,676.58 L437.87,682.61 L441.16,688.54 L444.34,694.38 L447.40,700.12 L450.35,705.77 L453.20,711.33 L455.94,716.81 L458.59,722.21 L461.15,727.52 L463.62,732.76 L466.01,737.93 L468.32,743.02 L470.55,748.04 L472.71,752.99 L474.80,757.87 L476.83,762.68 L478.80,767.44 L480.71,772.13 L482.56,776.76 L484.37,781.33 L486.12,785.84 L487.80,790.30 L489.42,794.71 L490.99,799.05 L492.51,803.35 L493.99,807.60 L495.43,811.80 L496.83,815.94 L498.19,820.05 L499.52,824.10 L500.82,828.11 L502.09,832.08 L503.33,836.00 L504.55,839.88 L505.74,843.71 L506.91,847.51 L508.05,851.27 L509.18,854.99 L510.29,858.67 L511.39,862.31 L512.46,865.92 L513.53,869.49 L514.58,873.02 L515.61,876.53 L516.64,879.99 L517.65,883.43 L518.65,886.83" fill="none" stroke="#00ff00" stroke-width="3.4" stroke-linecap="round"/><path d="M131.11,338.53 L140.75,353.80 L150.23,368.45 L159.53,382.53 L168.65,396.07 L177.60,409.12 L186.37,421.71 L194.97,433.88 L203.40,445.64 L211.66,457.04 L219.75,468.08 L227.68,478.79 L235.43,489.19 L243.02,499.30 L250.45,509.13 L257.72,518.70 L264.82,528.03 L271.77,537.11 L278.56,545.97 L285.20,554.62 L291.68,563.06 L298.01,571.31 L304.19,579.38 L310.22,587.26 L316.10,594.98 L321.83,602.54 L327.42,609.94 L332.87,617.18 L338.17,624.29 L343.34,631.26 L348.37,638.09 L353.26,644.80 L358.02,651.39 L362.65,657.85 L367.15,664.20 L371.52,670.44 L375.77,676.58 L379.90,682.61 L383.91,688.54 L387.80,694.38 L391.58,700.12 L395.25,705.77 L398.81,711.33 L402.24,716.81 L405.55,722.21 L408.77,727.52 L411.88,732.76 L414.90,737.93 L417.82,743.02 L420.65,748.04 L423.40,752.99 L426.06,757.87 L428.64,762.68 L431.14,767.44 L433.57,772.13 L435.93,776.76 L438.22,781.33 L440.45,785.84 L442.61,790.30 L444.71,794.71 L446.76,799.05 L448.75,803.35 L450.68,807.60 L452.57,811.80 L454.41,815.94 L456.21,820.05 L457.96,824.10 L459.67,828.11 L461.34,832.08 L462.97,836.00 L464.57,839.88 L466.13,843.71 L467.66,847.51 L469.16,851.27 L470.63,854.99 L472.07,858.67 L473.48,862.31 L474.87,865.92 L476.23,869.49 L477.57,873.02 L478.89,876.53 L480.19,879.99 L481.47,883.43 L482.73,886.83" fill="none" stroke="#00ff00" stroke-width="3.4" stroke-linecap="round"/><line x1="632.56" y1="865.92" x2="772.79" y2="537.11" stroke="#00ff00" stroke-width="3.5" stroke-dasharray="2.9 7.6" stroke-linecap="round"/><line x1="556.40" y1="865.92" x2="704.67" y2="537.11" stroke="#00ff00" stroke-width="3.5" stroke-dasharray="2.9 7.6" stroke-linecap="round"/><line x1="498.68" y1="865.92" x2="652.89" y2="537.11" stroke="#00ff00" stroke-width="3.5" stroke-dasharray="2.9 7.6" stroke-linecap="round"/><line x1="434.81" y1="865.92" x2="595.43" y2="537.11" stroke="#00ff00" stroke-width="3.5" stroke-dasharray="2.9 7.6" stroke-linecap="round"/><line x1="368.98" y1="865.92" x2="536.01" y2="537.11" stroke="#00ff00" stroke-width="3.5" stroke-dasharray="2.9 7.6" stroke-linecap="round"/><line x1="319.24" y1="865.92" x2="490.99" y2="537.11" stroke="#00ff00" stroke-width="3.5" stroke-dasharray="2.9 7.6" stroke-linecap="round"/><line x1="239.04" y1="865.92" x2="418.13" y2="537.11" stroke="#00ff00" stroke-width="3.5" stroke-dasharray="2.9 7.6" stroke-linecap="round"/></g><text x="656.56" y="330.23" font-size="19.5" fill="#00ff00" text-anchor="middle" dominant-baseline="central" stroke="#00ff00" stroke-width="0.5">32</text><text x="550.83" y="330.23" font-size="19.5" fill="#00ff00" text-anchor="middle" dominant-baseline="central" stroke="#00ff00" stroke-width="0.5">28</text><text x="448.13" y="330.23" font-size="19.5" fill="#00ff00" text-anchor="middle" dominant-baseline="central" stroke="#00ff00" stroke-width="0.5">24</text><text x="354.44" y="330.23" font-size="19.5" fill="#00ff00" text-anchor="middle" dominant-baseline="central" stroke="#00ff00" stroke-width="0.5">20</text><text x="270.62" y="330.23" font-size="19.5" fill="#00ff00" text-anchor="middle" dominant-baseline="central" stroke="#00ff00" stroke-width="0.5">16</text><text x="196.20" y="330.23" font-size="19.5" fill="#00ff00" text-anchor="middle" dominant-baseline="central" stroke="#00ff00" stroke-width="0.5">12</text><text x="131.31" y="330.23" font-size="19.5" fill="#00ff00" text-anchor="middle" dominant-baseline="central" stroke="#00ff00" stroke-width="0.5">8</text><text x="107.35" y="57.95" font-size="17" fill="#d2b48c" text-anchor="middle" dominant-baseline="central" transform="rotate(65.99 107.35 57.95)" stroke="#d2b48c" stroke-width="0.4">50</text><text x="156.68" y="57.95" font-size="17" fill="#d2b48c" text-anchor="middle" dominant-baseline="central" transform="rotate(64.11 156.68 57.95)" stroke="#d2b48c" stroke-width="0.4">60</text><text x="206.01" y="57.95" font-size="17" fill="#d2b48c" text-anchor="middle" dominant-baseline="central" transform="rotate(62.29 206.01 57.95)" stroke="#d2b48c" stroke-width="0.4">70</text><text x="255.34" y="57.95" font-size="17" fill="#d2b48c" text-anchor="middle" dominant-baseline="central" transform="rotate(60.53 255.34 57.95)" stroke="#d2b48c" stroke-width="0.4">80</text><text x="304.68" y="57.95" font-size="17" fill="#d2b48c" text-anchor="middle" dominant-baseline="central" transform="rotate(58.83 304.68 57.95)" stroke="#d2b48c" stroke-width="0.4">90</text><text x="354.01" y="57.95" font-size="17" fill="#d2b48c" text-anchor="middle" dominant-baseline="central" transform="rotate(57.19 354.01 57.95)" stroke="#d2b48c" stroke-width="0.4">100</text><text x="403.34" y="57.95" font-size="17" fill="#d2b48c" text-anchor="middle" dominant-baseline="central" transform="rotate(55.61 403.34 57.95)" stroke="#d2b48c" stroke-width="0.4">110</text><text x="452.67" y="57.95" font-size="17" fill="#d2b48c" text-anchor="middle" dominant-baseline="central" transform="rotate(54.08 452.67 57.95)" stroke="#d2b48c" stroke-width="0.4">120</text><text x="502.00" y="57.95" font-size="17" fill="#d2b48c" text-anchor="middle" dominant-baseline="central" transform="rotate(52.61 502.00 57.95)" stroke="#d2b48c" stroke-width="0.4">130</text><text x="551.34" y="57.95" font-size="17" fill="#d2b48c" text-anchor="middle" dominant-baseline="central" transform="rotate(51.20 551.34 57.95)" stroke="#d2b48c" stroke-width="0.4">140</text><text x="600.67" y="57.95" font-size="17" fill="#d2b48c" text-anchor="middle" dominant-baseline="central" transform="rotate(49.84 600.67 57.95)" stroke="#d2b48c" stroke-width="0.4">150</text><text x="650.00" y="57.95" font-size="17" fill="#d2b48c" text-anchor="middle" dominant-baseline="central" transform="rotate(48.53 650.00 57.95)" stroke="#d2b48c" stroke-width="0.4">160</text><text x="81.90" y="116.80" font-size="17" fill="#d2b48c" text-anchor="middle" dominant-baseline="central" transform="rotate(64.60 81.90 116.80)" stroke="#d2b48c" stroke-width="0.4">40</text><text x="80.20" y="225.50" font-size="17" fill="#d2b48c" text-anchor="middle" dominant-baseline="central" transform="rotate(63.51 80.20 225.50)" stroke="#d2b48c" stroke-width="0.4">30</text><text x="81.10" y="330.50" font-size="15.5" fill="#d2b48c" text-anchor="middle" dominant-baseline="central" transform="rotate(62.59 81.10 330.50)" stroke="#d2b48c" stroke-width="0.4">20</text><text x="79.90" y="428.80" font-size="15.5" fill="#d2b48c" text-anchor="middle" dominant-baseline="central" transform="rotate(62.10 79.90 428.80)" stroke="#d2b48c" stroke-width="0.4">10</text><text x="79.90" y="530.40" font-size="15.5" fill="#d2b48c" text-anchor="middle" dominant-baseline="central" transform="rotate(60.45 79.90 530.40)" stroke="#d2b48c" stroke-width="0.4">0</text><text x="79.40" y="629.70" font-size="15.5" fill="#d2b48c" text-anchor="middle" dominant-baseline="central" transform="rotate(59.11 79.40 629.70)" stroke="#d2b48c" stroke-width="0.4">-10</text><text x="78.30" y="725.00" font-size="15.5" fill="#d2b48c" text-anchor="middle" dominant-baseline="central" transform="rotate(57.03 78.30 725.00)" stroke="#d2b48c" stroke-width="0.4">-20</text><text x="77.60" y="823.70" font-size="15.5" fill="#d2b48c" text-anchor="middle" dominant-baseline="central" transform="rotate(56.83 77.60 823.70)" stroke="#d2b48c" stroke-width="0.4">-30</text><text x="-2.4" y="0.8" font-size="21" fill="#d2b48c" dominant-baseline="central" stroke="#d2b48c" stroke-width="0.4" transform="translate(723.43 146.32) rotate(-47.14)">-30</text><text x="-2.4" y="0.8" font-size="21" fill="#d2b48c" dominant-baseline="central" stroke="#d2b48c" stroke-width="0.4" transform="translate(723.43 257.98) rotate(-47.14)">-20</text><text x="-2.4" y="0.8" font-size="21" fill="#d2b48c" dominant-baseline="central" stroke="#d2b48c" stroke-width="0.4" transform="translate(723.43 369.64) rotate(-47.14)">-10</text><text x="-2.4" y="0.8" font-size="21" fill="#d2b48c" dominant-baseline="central" stroke="#d2b48c" stroke-width="0.4" transform="translate(723.43 481.30) rotate(-47.14)">0</text><text x="3.1" y="0.4" font-size="21" fill="#d2b48c" dominant-baseline="central" stroke="#d2b48c" stroke-width="0.4" transform="translate(747.97 563.80) rotate(-47.14)">10</text><text x="3.1" y="0.4" font-size="21" fill="#d2b48c" dominant-baseline="central" stroke="#d2b48c" stroke-width="0.4" transform="translate(797.03 617.17) rotate(-47.14)">20</text><text x="3.1" y="0.4" font-size="21" fill="#d2b48c" dominant-baseline="central" stroke="#d2b48c" stroke-width="0.4" transform="translate(846.10 670.53) rotate(-47.14)">30</text><path d="M69.00,39.64 L723.43,39.64 L723.43,537.11 L871.37,698.02 L871.37,882.90 L69.00,882.90 Z" fill="none" stroke="#000" stroke-width="1.6"/><path d="M460.70,71.80 L421.00,104.60 L393.20,137.40 L371.40,169.10 L359.50,200.90 L350.20,220.00 L343.50,236.70 L312.90,267.70 L311.00,299.10 L314.35,303.08 L317.63,307.06 L320.82,311.04 L323.94,315.02 L326.99,319.00 L329.99,322.98 L332.95,326.96 L335.87,330.94 L338.77,334.92 L341.66,338.90 L344.56,342.88 L347.46,346.87 L350.38,350.85 L353.34,354.83 L356.34,358.81 L359.38,362.79 L362.46,366.77 L365.57,370.75 L368.72,374.73 L371.89,378.71 L375.09,382.69 L378.32,386.67 L381.56,390.65 L384.82,394.63 L388.09,398.61 L391.38,402.59 L394.67,406.57 L397.95,410.55 L401.23,414.53 L404.50,418.51 L407.74,422.49 L410.96,426.47 L414.15,430.45 L417.30,434.43 L420.40,438.42 L423.45,442.40 L426.45,446.38 L429.38,450.36 L432.24,454.34 L435.02,458.32 L437.72,462.30 L440.35,466.28 L442.90,470.26 L445.40,474.24 L447.84,478.22 L450.24,482.20 L452.61,486.18 L454.94,490.16 L457.25,494.14 L459.56,498.12 L461.85,502.10 L464.16,506.08 L466.47,510.06 L468.80,514.04 L471.16,518.02 L473.56,522.00 L476.00,525.98 L478.48,529.97 L480.97,533.95 L483.44,537.93 L485.89,541.91 L488.28,545.89 L490.60,549.87 L492.81,553.85 L494.91,557.83 L496.87,561.81 L498.69,565.79 L500.39,569.77 L502.01,573.75 L503.60,577.73 L505.19,581.71 L506.80,585.69 L508.43,589.67 L510.07,593.65 L511.71,597.63 L513.36,601.61 L515.00,605.59 L516.62,609.57 L518.22,613.55 L519.78,617.53 L521.28,621.52 L522.70,625.50 L524.04,629.48 L525.26,633.46 L526.37,637.44 L527.35,641.42 L528.17,645.40 L528.83,649.38 L529.30,653.36 L529.57,657.34 L529.64,661.32 L529.70,665.30 L520.30,679.10 L506.50,700.00 L497.60,713.90 L497.24,717.79 L497.80,721.69 L499.06,725.58 L500.92,729.48 L503.25,733.37 L505.94,737.26 L508.87,741.16 L511.93,745.05 L515.00,748.94 L517.95,752.84 L520.68,756.73 L523.07,760.62 L525.07,764.52 L526.75,768.41 L528.16,772.31 L529.36,776.20 L530.41,780.09 L531.36,783.99 L532.29,787.88 L533.24,791.77 L534.28,795.67 L535.47,799.56 L536.82,803.46 L538.30,807.35 L539.85,811.24 L541.42,815.14 L542.96,819.03 L544.42,822.92 L545.76,826.82 L546.90,830.71 L547.78,834.61 L548.00,838.50 L546.71,842.30 L543.02,846.10 L538.17,849.90 L533.43,853.70 L530.04,857.50 L529.25,861.30 L532.30,865.10" fill="none" stroke="#000" stroke-width="6.2" stroke-linecap="round" stroke-linejoin="round"/><path d="M311.40,71.70 L283.60,103.90 L252.90,141.90 L228.00,169.70 L208.20,203.80 L252.70,237.00 L272.70,267.70 L280.30,285.30 L300.10,330.10 L304.20,334.06 L308.34,338.02 L312.37,341.98 L316.30,345.94 L320.13,349.90 L323.86,353.86 L327.51,357.83 L331.08,361.79 L334.58,365.75 L338.00,369.71 L341.36,373.67 L344.66,377.63 L347.90,381.59 L351.10,385.55 L354.25,389.51 L357.37,393.47 L360.45,397.43 L363.50,401.39 L366.54,405.35 L369.55,409.31 L372.54,413.27 L375.52,417.24 L378.48,421.20 L381.43,425.16 L384.36,429.12 L387.29,433.08 L390.21,437.04 L393.12,441.00 L396.03,444.96 L398.94,448.92 L401.85,452.88 L404.76,456.84 L407.67,460.80 L410.59,464.76 L413.51,468.73 L416.45,472.69 L419.40,476.65 L422.35,480.61 L425.33,484.57 L428.32,488.53 L431.33,492.49 L434.36,496.45 L437.42,500.41 L440.49,504.37 L443.56,508.33 L446.62,512.29 L449.65,516.25 L452.64,520.21 L455.56,524.17 L458.43,528.14 L461.23,532.10 L463.96,536.06 L466.62,540.02 L469.22,543.98 L471.74,547.94 L474.19,551.90 L476.56,555.86 L478.86,559.82 L481.08,563.78 L483.23,567.74 L485.31,571.70 L487.35,575.66 L489.34,579.62 L491.29,583.59 L493.20,587.55 L495.10,591.51 L496.98,595.47 L498.85,599.43 L500.71,603.39 L502.58,607.35 L504.43,611.31 L506.26,615.27 L508.07,619.23 L509.84,623.19 L511.56,627.15 L513.22,631.11 L514.82,635.08 L516.35,639.04 L517.79,643.00 L519.14,646.96 L520.40,650.92 L521.54,654.88 L522.57,658.84 L523.40,662.80 L500.20,687.80 L496.40,693.80 L467.60,713.90 L472.64,717.88 L477.59,721.86 L482.44,725.84 L487.16,729.82 L491.75,733.79 L496.19,737.77 L500.46,741.75 L504.56,745.73 L508.46,749.71 L512.15,753.69 L515.61,757.67 L518.84,761.65 L521.81,765.63 L524.52,769.61 L526.94,773.58 L529.06,777.56 L530.87,781.54 L532.35,785.52 L533.49,789.50 L534.27,793.48 L534.68,797.46 L534.73,801.44 L534.44,805.42 L533.85,809.39 L532.98,813.37 L531.96,817.35 L530.97,821.33 L530.19,825.31 L529.80,829.29 L529.73,833.27 L529.73,837.25 L529.54,841.23 L528.91,845.21 L527.59,849.18 L525.63,853.16 L523.28,857.14 L520.80,861.12 L518.70,865.10" fill="none" stroke="#0000ff" stroke-width="6.2" stroke-linecap="round" stroke-linejoin="round"/><line x1="68.00" y1="39.64" x2="70.00" y2="39.64" stroke="#000" stroke-width="1.5"/><text transform="translate(54.00 40.14) scale(0.985 1.065)" x="0" y="0" font-size="22" fill="#000" text-anchor="end" dominant-baseline="central" stroke="#000" stroke-width="0.25">100</text><line x1="68.00" y1="185.14" x2="70.00" y2="185.14" stroke="#000" stroke-width="1.5"/><text transform="translate(54.00 185.64) scale(0.985 1.065)" x="0" y="0" font-size="22" fill="#000" text-anchor="end" dominant-baseline="central" stroke="#000" stroke-width="0.25">150</text><line x1="68.00" y1="288.38" x2="70.00" y2="288.38" stroke="#000" stroke-width="1.5"/><text transform="translate(54.00 288.88) scale(0.985 1.065)" x="0" y="0" font-size="22" fill="#000" text-anchor="end" dominant-baseline="central" stroke="#000" stroke-width="0.25">200</text><line x1="68.00" y1="368.45" x2="70.00" y2="368.45" stroke="#000" stroke-width="1.5"/><text transform="translate(54.00 368.95) scale(0.985 1.065)" x="0" y="0" font-size="22" fill="#000" text-anchor="end" dominant-baseline="central" stroke="#000" stroke-width="0.25">250</text><line x1="68.00" y1="433.88" x2="70.00" y2="433.88" stroke="#000" stroke-width="1.5"/><text transform="translate(54.00 434.38) scale(0.985 1.065)" x="0" y="0" font-size="22" fill="#000" text-anchor="end" dominant-baseline="central" stroke="#000" stroke-width="0.25">300</text><line x1="68.00" y1="537.11" x2="70.00" y2="537.11" stroke="#000" stroke-width="1.5"/><text transform="translate(54.00 537.61) scale(0.985 1.065)" x="0" y="0" font-size="22" fill="#000" text-anchor="end" dominant-baseline="central" stroke="#000" stroke-width="0.25">400</text><line x1="68.00" y1="617.18" x2="70.00" y2="617.18" stroke="#000" stroke-width="1.5"/><text transform="translate(54.00 617.68) scale(0.985 1.065)" x="0" y="0" font-size="22" fill="#000" text-anchor="end" dominant-baseline="central" stroke="#000" stroke-width="0.25">500</text><line x1="68.00" y1="737.93" x2="70.00" y2="737.93" stroke="#000" stroke-width="1.5"/><text transform="translate(54.00 738.43) scale(0.985 1.065)" x="0" y="0" font-size="22" fill="#000" text-anchor="end" dominant-baseline="central" stroke="#000" stroke-width="0.25">700</text><line x1="68.00" y1="807.60" x2="70.00" y2="807.60" stroke="#000" stroke-width="1.5"/><text transform="translate(54.00 808.10) scale(0.985 1.065)" x="0" y="0" font-size="22" fill="#000" text-anchor="end" dominant-baseline="central" stroke="#000" stroke-width="0.25">850</text><line x1="68.00" y1="865.92" x2="70.00" y2="865.92" stroke="#000" stroke-width="1.5"/><text transform="translate(54.00 866.42) scale(0.985 1.065)" x="0" y="0" font-size="22" fill="#000" text-anchor="end" dominant-baseline="central" stroke="#000" stroke-width="0.25">1000</text><line x1="103.42" y1="882.90" x2="103.42" y2="895.50" stroke="#000" stroke-width="3.6" stroke-linecap="round"/><text transform="translate(103.42 918.40) scale(0.990 1.060)" x="0" y="0" font-size="22" fill="#000" text-anchor="middle" dominant-baseline="central" stroke="#000" stroke-width="0.25">-30</text><line x1="197.41" y1="882.90" x2="197.41" y2="895.50" stroke="#000" stroke-width="3.6" stroke-linecap="round"/><text transform="translate(197.41 918.40) scale(0.990 1.060)" x="0" y="0" font-size="22" fill="#000" text-anchor="middle" dominant-baseline="central" stroke="#000" stroke-width="0.25">-20</text><line x1="291.40" y1="882.90" x2="291.40" y2="895.50" stroke="#000" stroke-width="3.6" stroke-linecap="round"/><text transform="translate(291.40 918.40) scale(0.990 1.060)" x="0" y="0" font-size="22" fill="#000" text-anchor="middle" dominant-baseline="central" stroke="#000" stroke-width="0.25">-10</text><line x1="385.39" y1="882.90" x2="385.39" y2="895.50" stroke="#000" stroke-width="3.6" stroke-linecap="round"/><text transform="translate(385.39 918.40) scale(0.990 1.060)" x="0" y="0" font-size="22" fill="#000" text-anchor="middle" dominant-baseline="central" stroke="#000" stroke-width="0.25">0</text><line x1="479.37" y1="882.90" x2="479.37" y2="895.50" stroke="#000" stroke-width="3.6" stroke-linecap="round"/><text transform="translate(479.37 918.40) scale(0.990 1.060)" x="0" y="0" font-size="22" fill="#000" text-anchor="middle" dominant-baseline="central" stroke="#000" stroke-width="0.25">10</text><line x1="573.36" y1="882.90" x2="573.36" y2="895.50" stroke="#000" stroke-width="3.6" stroke-linecap="round"/><text transform="translate(573.36 918.40) scale(0.990 1.060)" x="0" y="0" font-size="22" fill="#000" text-anchor="middle" dominant-baseline="central" stroke="#000" stroke-width="0.25">20</text><line x1="667.35" y1="882.90" x2="667.35" y2="895.50" stroke="#000" stroke-width="3.6" stroke-linecap="round"/><text transform="translate(667.35 918.40) scale(0.990 1.060)" x="0" y="0" font-size="22" fill="#000" text-anchor="middle" dominant-baseline="central" stroke="#000" stroke-width="0.25">30</text><line x1="761.33" y1="882.90" x2="761.33" y2="895.50" stroke="#000" stroke-width="3.6" stroke-linecap="round"/><text transform="translate(761.33 918.40) scale(0.990 1.060)" x="0" y="0" font-size="22" fill="#000" text-anchor="middle" dominant-baseline="central" stroke="#000" stroke-width="0.25">40</text><text x="492.00" y="944.50" font-size="19.4" fill="#000" text-anchor="middle" dominant-baseline="central">Temperature (C)</text><text x="9.00" y="484.30" font-size="19" fill="#000" text-anchor="middle" dominant-baseline="central" transform="rotate(-90.00 9.00 484.30)">P (hPa)</text><text x="896.50" y="488.90" font-size="22" fill="#000" text-anchor="middle" dominant-baseline="central" transform="rotate(90.00 896.50 488.90)">Height (Km)</text><text transform="translate(114.2 17.6) scale(1 1.07)" x="0" y="0" font-size="22" fill="#a0522d" stroke="#a0522d" stroke-width="0.2" textLength="532" lengthAdjust="spacingAndGlyphs">Plcl=972 Tlcl[C]=12 Shox=6 Pwat[cm]=4 Cape[J]= 0</text><line x1="818.80" y1="38.8" x2="818.80" y2="870" stroke="#000" stroke-width="1.5"/><line x1="818.80" y1="104.40" x2="782.20" y2="90.20" stroke="#000" stroke-width="1.3"/><line x1="782.20" y1="90.20" x2="780.54" y2="76.30" stroke="#000" stroke-width="1.5"/><line x1="786.12" y1="91.72" x2="784.46" y2="77.82" stroke="#000" stroke-width="1.5"/><line x1="790.03" y1="93.24" x2="788.37" y2="79.34" stroke="#000" stroke-width="1.5"/><line x1="793.95" y1="94.76" x2="793.12" y2="87.81" stroke="#000" stroke-width="1.5"/><line x1="818.80" y1="171.10" x2="780.10" y2="161.10" stroke="#000" stroke-width="1.3"/><line x1="780.10" y1="161.10" x2="776.83" y2="147.49" stroke="#000" stroke-width="1.5"/><line x1="784.17" y1="162.15" x2="780.90" y2="148.54" stroke="#000" stroke-width="1.5"/><line x1="788.23" y1="163.20" x2="784.96" y2="149.59" stroke="#000" stroke-width="1.5"/><line x1="792.30" y1="164.25" x2="789.03" y2="150.64" stroke="#000" stroke-width="1.5"/><line x1="796.37" y1="165.30" x2="794.73" y2="158.50" stroke="#000" stroke-width="1.5"/><line x1="818.80" y1="236.80" x2="773.40" y2="232.20" stroke="#000" stroke-width="1.3"/><path d="M773.4,232.2 L774.4,221.2 L779.0,232.7 Z" fill="#000" stroke="#000" stroke-width="0.8" stroke-linejoin="round"/><line x1="783.15" y1="233.19" x2="780.50" y2="226.71" stroke="#000" stroke-width="1.5"/><line x1="818.80" y1="301.00" x2="779.70" y2="306.10" stroke="#000" stroke-width="1.3"/><line x1="779.70" y1="306.10" x2="771.58" y2="294.69" stroke="#000" stroke-width="1.5"/><line x1="783.86" y1="305.56" x2="775.75" y2="294.15" stroke="#000" stroke-width="1.5"/><line x1="788.03" y1="305.01" x2="779.91" y2="293.61" stroke="#000" stroke-width="1.5"/><line x1="792.19" y1="304.47" x2="784.08" y2="293.06" stroke="#000" stroke-width="1.5"/><line x1="818.80" y1="362.50" x2="779.70" y2="369.70" stroke="#000" stroke-width="1.3"/><line x1="779.70" y1="369.70" x2="771.00" y2="358.73" stroke="#000" stroke-width="1.5"/><line x1="783.83" y1="368.94" x2="775.13" y2="357.97" stroke="#000" stroke-width="1.5"/><line x1="787.96" y1="368.18" x2="779.26" y2="357.21" stroke="#000" stroke-width="1.5"/><line x1="792.09" y1="367.42" x2="783.39" y2="356.45" stroke="#000" stroke-width="1.5"/><line x1="796.22" y1="366.66" x2="791.87" y2="361.17" stroke="#000" stroke-width="1.5"/><line x1="818.80" y1="421.40" x2="779.70" y2="426.40" stroke="#000" stroke-width="1.3"/><line x1="779.70" y1="426.40" x2="771.61" y2="414.97" stroke="#000" stroke-width="1.5"/><line x1="783.87" y1="425.87" x2="775.78" y2="414.44" stroke="#000" stroke-width="1.5"/><line x1="788.03" y1="425.33" x2="779.94" y2="413.91" stroke="#000" stroke-width="1.5"/><line x1="792.20" y1="424.80" x2="784.11" y2="413.37" stroke="#000" stroke-width="1.5"/><line x1="796.36" y1="424.27" x2="792.32" y2="418.56" stroke="#000" stroke-width="1.5"/><line x1="818.80" y1="478.30" x2="779.70" y2="483.20" stroke="#000" stroke-width="1.3"/><line x1="779.70" y1="483.20" x2="771.64" y2="471.75" stroke="#000" stroke-width="1.5"/><line x1="783.87" y1="482.68" x2="775.81" y2="471.23" stroke="#000" stroke-width="1.5"/><line x1="788.03" y1="482.16" x2="779.98" y2="470.71" stroke="#000" stroke-width="1.5"/><line x1="792.20" y1="481.63" x2="784.14" y2="470.19" stroke="#000" stroke-width="1.5"/><line x1="796.37" y1="481.11" x2="792.34" y2="475.39" stroke="#000" stroke-width="1.5"/><line x1="818.80" y1="533.90" x2="779.70" y2="538.40" stroke="#000" stroke-width="1.3"/><line x1="779.70" y1="538.40" x2="771.76" y2="526.87" stroke="#000" stroke-width="1.5"/><line x1="783.87" y1="537.92" x2="775.93" y2="526.39" stroke="#000" stroke-width="1.5"/><line x1="788.04" y1="537.44" x2="780.10" y2="525.91" stroke="#000" stroke-width="1.5"/><line x1="792.22" y1="536.96" x2="784.27" y2="525.43" stroke="#000" stroke-width="1.5"/><line x1="796.39" y1="536.48" x2="792.42" y2="530.71" stroke="#000" stroke-width="1.5"/><line x1="818.80" y1="587.20" x2="779.70" y2="592.20" stroke="#000" stroke-width="1.3"/><line x1="779.70" y1="592.20" x2="771.61" y2="580.77" stroke="#000" stroke-width="1.5"/><line x1="783.87" y1="591.67" x2="775.78" y2="580.24" stroke="#000" stroke-width="1.5"/><line x1="788.03" y1="591.13" x2="779.94" y2="579.71" stroke="#000" stroke-width="1.5"/><line x1="792.20" y1="590.60" x2="784.11" y2="579.17" stroke="#000" stroke-width="1.5"/><line x1="796.36" y1="590.07" x2="792.32" y2="584.36" stroke="#000" stroke-width="1.5"/><line x1="818.80" y1="639.90" x2="779.70" y2="641.70" stroke="#000" stroke-width="1.3"/><line x1="779.70" y1="641.70" x2="772.57" y2="629.65" stroke="#000" stroke-width="1.5"/><line x1="783.90" y1="641.51" x2="776.76" y2="629.46" stroke="#000" stroke-width="1.5"/><line x1="788.09" y1="641.31" x2="780.96" y2="629.27" stroke="#000" stroke-width="1.5"/><line x1="792.29" y1="641.12" x2="785.15" y2="629.07" stroke="#000" stroke-width="1.5"/><line x1="796.48" y1="640.93" x2="792.92" y2="634.90" stroke="#000" stroke-width="1.5"/><line x1="818.80" y1="691.00" x2="797.60" y2="722.60" stroke="#000" stroke-width="1.3"/><line x1="797.60" y1="722.60" x2="783.67" y2="721.17" stroke="#000" stroke-width="1.5"/><line x1="799.94" y1="719.11" x2="786.01" y2="717.68" stroke="#000" stroke-width="1.5"/><line x1="802.28" y1="715.62" x2="788.35" y2="714.20" stroke="#000" stroke-width="1.5"/><line x1="818.80" y1="741.40" x2="806.40" y2="776.60" stroke="#000" stroke-width="1.3"/><line x1="806.40" y1="776.60" x2="792.56" y2="778.69" stroke="#000" stroke-width="1.5"/><line x1="807.80" y1="772.64" x2="793.95" y2="774.73" stroke="#000" stroke-width="1.5"/><line x1="809.19" y1="768.68" x2="795.35" y2="770.77" stroke="#000" stroke-width="1.5"/><line x1="818.80" y1="783.00" x2="796.30" y2="812.20" stroke="#000" stroke-width="1.3"/><line x1="796.30" y1="812.20" x2="782.50" y2="809.86" stroke="#000" stroke-width="1.5"/><line x1="798.86" y1="808.87" x2="785.06" y2="806.53" stroke="#000" stroke-width="1.5"/><line x1="801.43" y1="805.55" x2="787.62" y2="803.21" stroke="#000" stroke-width="1.5"/><line x1="818.80" y1="809.20" x2="797.80" y2="837.70" stroke="#000" stroke-width="1.3"/><line x1="797.80" y1="837.70" x2="783.95" y2="835.66" stroke="#000" stroke-width="1.5"/><line x1="800.29" y1="834.32" x2="786.44" y2="832.28" stroke="#000" stroke-width="1.5"/><line x1="802.78" y1="830.94" x2="788.93" y2="828.90" stroke="#000" stroke-width="1.5"/><line x1="818.80" y1="834.10" x2="800.70" y2="861.90" stroke="#000" stroke-width="1.3"/><line x1="800.70" y1="861.90" x2="786.75" y2="860.66" stroke="#000" stroke-width="1.5"/><line x1="802.99" y1="858.38" x2="789.05" y2="857.14" stroke="#000" stroke-width="1.5"/><line x1="805.28" y1="854.86" x2="791.34" y2="853.62" stroke="#000" stroke-width="1.5"/><line x1="807.57" y1="851.34" x2="800.60" y2="850.72" stroke="#000" stroke-width="1.5"/><line x1="818.80" y1="851.60" x2="808.00" y2="883.80" stroke="#000" stroke-width="1.3"/><line x1="808.00" y1="883.80" x2="794.19" y2="886.10" stroke="#000" stroke-width="1.5"/><line x1="809.34" y1="879.82" x2="795.53" y2="882.12" stroke="#000" stroke-width="1.5"/><line x1="810.67" y1="875.84" x2="796.86" y2="878.14" stroke="#000" stroke-width="1.5"/><line x1="812.01" y1="871.85" x2="805.10" y2="873.00" stroke="#000" stroke-width="1.5"/><line x1="818.80" y1="858.00" x2="829.30" y2="895.90" stroke="#000" stroke-width="1.3"/><line x1="829.30" y1="895.90" x2="819.14" y2="905.53" stroke="#000" stroke-width="1.5"/><line x1="828.18" y1="891.85" x2="818.02" y2="901.49" stroke="#000" stroke-width="1.5"/><line x1="827.06" y1="887.80" x2="821.98" y2="892.62" stroke="#000" stroke-width="1.5"/><line x1="818.80" y1="866.00" x2="837.40" y2="899.70" stroke="#000" stroke-width="1.3"/><line x1="837.40" y1="899.70" x2="829.75" y2="911.43" stroke="#000" stroke-width="1.5"/><line x1="835.37" y1="896.02" x2="831.55" y2="901.89" stroke="#000" stroke-width="1.5"/><circle cx="818.80" cy="94.20" r="4.5" fill="#000"/><circle cx="818.80" cy="179.50" r="4.5" fill="#000"/><circle cx="818.80" cy="266.40" r="4.5" fill="#000"/><circle cx="818.80" cy="351.30" r="4.5" fill="#000"/><circle cx="818.80" cy="434.30" r="4.5" fill="#000"/><circle cx="818.80" cy="514.60" r="4.5" fill="#000"/><circle cx="818.80" cy="591.00" r="4.5" fill="#000"/><circle cx="818.80" cy="621.10" r="4.5" fill="#000"/><circle cx="818.80" cy="650.40" r="4.5" fill="#000"/><circle cx="818.80" cy="680.00" r="4.5" fill="#000"/><circle cx="818.80" cy="708.00" r="4.5" fill="#000"/><circle cx="818.80" cy="737.00" r="4.5" fill="#000"/><circle cx="818.80" cy="750.00" r="4.5" fill="#000"/><circle cx="818.80" cy="763.40" r="4.5" fill="#000"/><circle cx="818.80" cy="777.20" r="4.5" fill="#000"/><circle cx="818.80" cy="791.00" r="4.5" fill="#000"/><circle cx="818.80" cy="804.90" r="4.5" fill="#000"/><circle cx="818.80" cy="817.70" r="4.5" fill="#000"/><circle cx="818.80" cy="830.90" r="4.5" fill="#000"/><circle cx="818.80" cy="844.30" r="4.5" fill="#000"/><circle cx="818.80" cy="857.50" r="4.5" fill="#000"/><circle cx="818.80" cy="869.90" r="4.5" fill="#000"/><defs><clipPath id="topc"><rect x="800" y="39.2" width="40" height="20"/></clipPath></defs><circle cx="818.80" cy="39.2" r="4.3" fill="none" stroke="#000" stroke-width="1.3" clip-path="url(#topc)"/><circle cx="818.80" cy="186.20" r="4.0" fill="none" stroke="#000" stroke-width="1.2"/><circle cx="818.80" cy="288.50" r="4.0" fill="none" stroke="#000" stroke-width="1.2"/><circle cx="818.80" cy="368.50" r="4.0" fill="none" stroke="#000" stroke-width="1.2"/><circle cx="818.80" cy="537.20" r="4.0" fill="none" stroke="#000" stroke-width="1.2"/><circle cx="818.80" cy="617.00" r="4.0" fill="none" stroke="#000" stroke-width="1.2"/><line x1="912.50" y1="39.9" x2="912.50" y2="883.00" stroke="#000" stroke-width="2.8" stroke-linecap="round"/><line x1="912.50" y1="870.64" x2="923.70" y2="870.64" stroke="#000" stroke-width="4.4" stroke-linecap="round"/><text transform="translate(938.80 871.14) scale(0.980 1.000)" x="0" y="0" font-size="22" fill="#000" text-anchor="start" dominant-baseline="central" stroke="#000" stroke-width="0.25">0</text><line x1="912.50" y1="827.61" x2="923.70" y2="827.61" stroke="#000" stroke-width="4.4" stroke-linecap="round"/><text transform="translate(938.80 828.11) scale(0.980 1.000)" x="0" y="0" font-size="22" fill="#000" text-anchor="start" dominant-baseline="central" stroke="#000" stroke-width="0.25">1</text><line x1="912.50" y1="783.57" x2="923.70" y2="783.57" stroke="#000" stroke-width="4.4" stroke-linecap="round"/><text transform="translate(938.80 784.07) scale(0.980 1.000)" x="0" y="0" font-size="22" fill="#000" text-anchor="start" dominant-baseline="central" stroke="#000" stroke-width="0.25">2</text><line x1="912.50" y1="738.48" x2="923.70" y2="738.48" stroke="#000" stroke-width="4.4" stroke-linecap="round"/><text transform="translate(938.80 738.98) scale(0.980 1.000)" x="0" y="0" font-size="22" fill="#000" text-anchor="start" dominant-baseline="central" stroke="#000" stroke-width="0.25">3</text><line x1="912.50" y1="692.29" x2="923.70" y2="692.29" stroke="#000" stroke-width="4.4" stroke-linecap="round"/><text transform="translate(938.80 692.79) scale(0.980 1.000)" x="0" y="0" font-size="22" fill="#000" text-anchor="start" dominant-baseline="central" stroke="#000" stroke-width="0.25">4</text><line x1="912.50" y1="644.93" x2="923.70" y2="644.93" stroke="#000" stroke-width="4.4" stroke-linecap="round"/><text transform="translate(938.80 645.43) scale(0.980 1.000)" x="0" y="0" font-size="22" fill="#000" text-anchor="start" dominant-baseline="central" stroke="#000" stroke-width="0.25">5</text><line x1="912.50" y1="596.36" x2="923.70" y2="596.36" stroke="#000" stroke-width="4.4" stroke-linecap="round"/><text transform="translate(938.80 596.86) scale(0.980 1.000)" x="0" y="0" font-size="22" fill="#000" text-anchor="start" dominant-baseline="central" stroke="#000" stroke-width="0.25">6</text><line x1="912.50" y1="546.50" x2="923.70" y2="546.50" stroke="#000" stroke-width="4.4" stroke-linecap="round"/><text transform="translate(938.80 547.00) scale(0.980 1.000)" x="0" y="0" font-size="22" fill="#000" text-anchor="start" dominant-baseline="central" stroke="#000" stroke-width="0.25">7</text><line x1="912.50" y1="495.29" x2="923.70" y2="495.29" stroke="#000" stroke-width="4.4" stroke-linecap="round"/><text transform="translate(938.80 495.79) scale(0.980 1.000)" x="0" y="0" font-size="22" fill="#000" text-anchor="start" dominant-baseline="central" stroke="#000" stroke-width="0.25">8</text><line x1="912.50" y1="442.65" x2="923.70" y2="442.65" stroke="#000" stroke-width="4.4" stroke-linecap="round"/><text transform="translate(938.80 443.15) scale(0.980 1.000)" x="0" y="0" font-size="22" fill="#000" text-anchor="start" dominant-baseline="central" stroke="#000" stroke-width="0.25">9</text><line x1="912.50" y1="388.49" x2="923.70" y2="388.49" stroke="#000" stroke-width="4.4" stroke-linecap="round"/><text transform="translate(938.80 388.99) scale(0.955 1.000)" x="0" y="0" font-size="22" fill="#000" text-anchor="start" dominant-baseline="central" stroke="#000" stroke-width="0.25">10</text><line x1="912.50" y1="332.74" x2="923.70" y2="332.74" stroke="#000" stroke-width="4.4" stroke-linecap="round"/><text transform="translate(938.80 333.24) scale(0.955 1.000)" x="0" y="0" font-size="22" fill="#000" text-anchor="start" dominant-baseline="central" stroke="#000" stroke-width="0.25">11</text><line x1="912.50" y1="276.46" x2="923.70" y2="276.46" stroke="#000" stroke-width="4.4" stroke-linecap="round"/><text transform="translate(938.80 276.96) scale(0.955 1.000)" x="0" y="0" font-size="22" fill="#000" text-anchor="start" dominant-baseline="central" stroke="#000" stroke-width="0.25">12</text><line x1="912.50" y1="220.17" x2="923.70" y2="220.17" stroke="#000" stroke-width="4.4" stroke-linecap="round"/><text transform="translate(938.80 220.67) scale(0.955 1.000)" x="0" y="0" font-size="22" fill="#000" text-anchor="start" dominant-baseline="central" stroke="#000" stroke-width="0.25">13</text><line x1="912.50" y1="163.88" x2="923.70" y2="163.88" stroke="#000" stroke-width="4.4" stroke-linecap="round"/><text transform="translate(938.80 164.38) scale(0.955 1.000)" x="0" y="0" font-size="22" fill="#000" text-anchor="start" dominant-baseline="central" stroke="#000" stroke-width="0.25">14</text><line x1="912.50" y1="107.60" x2="923.70" y2="107.60" stroke="#000" stroke-width="4.4" stroke-linecap="round"/><text transform="translate(938.80 108.10) scale(0.955 1.000)" x="0" y="0" font-size="22" fill="#000" text-anchor="start" dominant-baseline="central" stroke="#000" stroke-width="0.25">15</text><line x1="912.50" y1="51.31" x2="923.70" y2="51.31" stroke="#000" stroke-width="4.4" stroke-linecap="round"/><text transform="translate(938.80 51.81) scale(0.955 1.000)" x="0" y="0" font-size="22" fill="#000" text-anchor="start" dominant-baseline="central" stroke="#000" stroke-width="0.25">16</text></svg></body></html>
